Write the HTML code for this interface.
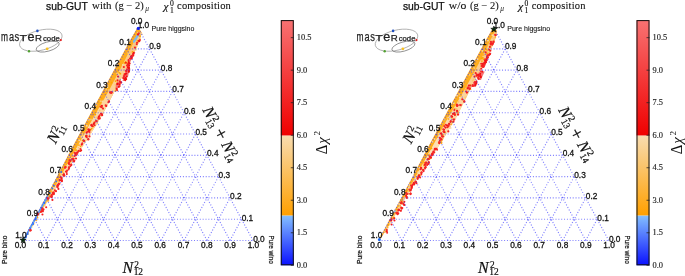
<!DOCTYPE html><html><head><meta charset="utf-8"><style>html,body{margin:0;padding:0;background:#fff;width:685px;height:276px;overflow:hidden}svg{display:block;will-change:transform}</style></head><body><svg width="685" height="276" viewBox="0 0 685 276">
<rect width="685" height="276" fill="#fff"/>
<path d="M136.94,28.50 L135.78,30.50 L134.61,32.50 L133.45,34.50 L132.29,36.50 L131.12,38.50 L129.98,40.50 L128.90,42.50 L127.82,44.50 L126.74,46.50 L125.66,48.50 L124.58,50.50 L123.50,52.50 L122.42,54.50 L121.34,56.50 L120.26,58.50 L119.18,60.50 L118.10,62.50 L117.02,64.50 L115.94,66.50 L114.86,68.50 L113.78,70.50 L112.70,72.50 L111.62,74.50 L110.54,76.50 L109.46,78.50 L108.38,80.50 L107.31,82.50 L106.23,84.50 L105.15,86.50 L104.07,88.50 L102.99,90.50 L101.91,92.50 L100.83,94.50 L99.75,96.50 L98.67,98.50 L97.59,100.50 L96.51,102.50 L95.43,104.50 L94.35,106.50 L93.27,108.50 L92.19,110.50 L91.11,112.50 L90.03,114.50 L88.95,116.50 L87.87,118.50 L86.79,120.50 L85.71,122.50 L84.63,124.50 L83.55,126.50 L82.47,128.50 L81.39,130.50 L80.31,132.50 L79.23,134.50 L78.15,136.50 L77.07,138.50 L75.99,140.50 L74.91,142.50 L73.83,144.50 L72.75,146.50 L71.67,148.50 L70.60,150.50 L69.55,152.50 L68.51,154.50 L67.46,156.50 L66.41,158.50 L65.37,160.50 L64.32,162.50 L63.27,164.50 L62.23,166.50 L61.18,168.50 L60.14,170.50 L59.09,172.50 L58.04,174.50 L57.00,176.50 L55.95,178.50 L54.90,180.50 L53.82,182.50 L52.75,184.50 L51.68,186.50 L50.60,188.50 L49.53,190.50 L48.46,192.50 L47.38,194.50 L46.31,196.50 L45.24,198.50 L44.16,200.50 L43.09,202.50 L42.02,204.50 L40.95,206.50 L39.87,208.50 L38.80,210.50 L37.73,212.50 L36.65,214.50 L35.58,216.50 L34.51,218.50 L33.43,220.50 L32.36,222.50 L31.29,224.50 L30.21,226.50 L29.14,228.50 L28.07,230.50 L26.99,232.50 L25.92,234.50 L24.85,236.50 L23.77,238.50 L23.51,239.00 L24.61,239.00 L24.88,238.50 L26.04,236.50 L27.22,234.50 L28.41,232.50 L29.59,230.50 L30.77,228.50 L31.96,226.50 L33.14,224.50 L34.33,222.50 L35.51,220.50 L36.70,218.50 L37.88,216.50 L39.09,214.50 L40.37,212.50 L41.65,210.50 L42.93,208.50 L44.21,206.50 L45.49,204.50 L46.77,202.50 L48.05,200.50 L49.25,198.50 L50.43,196.50 L51.61,194.50 L52.79,192.50 L53.97,190.50 L55.15,188.50 L56.33,186.50 L57.51,184.50 L58.69,182.50 L59.87,180.50 L61.17,178.50 L62.52,176.50 L63.87,174.50 L65.21,172.50 L66.56,170.50 L67.91,168.50 L69.25,166.50 L70.60,164.50 L71.95,162.50 L73.29,160.50 L74.64,158.50 L75.99,156.50 L77.33,154.50 L78.68,152.50 L80.02,150.50 L81.32,148.50 L82.60,146.50 L83.88,144.50 L85.16,142.50 L86.44,140.50 L87.72,138.50 L89.00,136.50 L90.27,134.50 L91.50,132.50 L92.73,130.50 L93.96,128.50 L95.19,126.50 L96.42,124.50 L97.65,122.50 L98.88,120.50 L100.11,118.50 L101.34,116.50 L102.52,114.50 L103.56,112.50 L104.60,110.50 L105.64,108.50 L106.68,106.50 L107.72,104.50 L108.76,102.50 L109.80,100.50 L110.84,98.50 L111.88,96.50 L112.92,94.50 L113.96,92.50 L115.00,90.50 L116.04,88.50 L117.08,86.50 L118.12,84.50 L119.16,82.50 L120.20,80.50 L121.24,78.50 L122.28,76.50 L123.33,74.50 L124.37,72.50 L125.41,70.50 L126.45,68.50 L127.49,66.50 L128.53,64.50 L129.52,62.50 L130.48,60.50 L131.44,58.50 L132.40,56.50 L133.36,54.50 L134.33,52.50 L135.29,50.50 L136.25,48.50 L137.17,46.50 L137.96,44.50 L138.76,42.50 L139.55,40.50 L140.13,38.50 L140.63,36.50 L141.14,34.50 L141.64,32.50 L140.44,30.50 L138.66,28.50 Z" fill="#ffad1c"/>
<defs><linearGradient id="bgL" gradientUnits="userSpaceOnUse" x1="0" y1="30" x2="0" y2="200"><stop offset="0" stop-color="#fbc57a"/><stop offset="0.4" stop-color="#fcd49c"/><stop offset="0.7" stop-color="#fde0b8"/><stop offset="1" stop-color="#fcd49c"/></linearGradient></defs>
<path d="M138.67,32.00 L137.69,34.00 L136.71,36.00 L135.73,38.00 L134.75,40.00 L133.77,42.00 L132.79,44.00 L131.81,46.00 L130.83,48.00 L129.85,50.00 L128.87,52.00 L127.89,54.00 L126.91,56.00 L125.93,58.00 L124.95,60.00 L123.91,62.00 L122.86,64.00 L121.81,66.00 L120.77,68.00 L119.72,70.00 L118.67,72.00 L117.63,74.00 L116.58,76.00 L115.53,78.00 L114.49,80.00 L113.44,82.00 L112.40,84.00 L111.35,86.00 L110.30,88.00 L109.26,90.00 L108.11,92.00 L106.96,94.00 L105.82,96.00 L104.67,98.00 L103.52,100.00 L102.38,102.00 L101.23,104.00 L100.08,106.00 L98.94,108.00 L97.79,110.00 L96.64,112.00 L95.50,114.00 L94.35,116.00 L93.21,118.00 L92.06,120.00 L90.95,122.00 L89.83,124.00 L88.72,126.00 L87.61,128.00 L86.49,130.00 L85.38,132.00 L84.27,134.00 L83.15,136.00 L82.04,138.00 L80.93,140.00 L79.81,142.00 L78.70,144.00 L77.59,146.00 L76.47,148.00 L75.36,150.00 L74.23,152.00 L73.10,154.00 L71.97,156.00 L70.84,158.00 L69.71,160.00 L68.58,162.00 L67.45,164.00 L66.32,166.00 L65.19,168.00 L64.06,170.00 L62.95,172.00 L61.84,174.00 L60.72,176.00 L59.61,178.00 L58.50,180.00 L57.38,182.00 L56.27,184.00 L55.16,186.00 L54.05,188.00 L52.93,190.00 L51.82,192.00 L50.71,194.00 L49.59,196.00 L48.48,198.00 L47.37,200.00 L46.21,202.00 L45.05,204.00 L43.89,206.00 L42.73,208.00 L41.57,210.00 L40.41,212.00 L39.25,214.00 L38.10,216.00 L36.94,218.00 L35.78,220.00 L34.62,222.00 L33.46,224.00 L32.30,226.00 L31.14,228.00 L29.98,230.00 L28.83,232.00 L27.67,234.00 L26.51,236.00 L26.33,236.00 L27.52,234.00 L28.70,232.00 L29.89,230.00 L31.07,228.00 L32.25,226.00 L33.44,224.00 L34.62,222.00 L35.81,220.00 L36.99,218.00 L38.18,216.00 L39.41,214.00 L40.69,212.00 L41.97,210.00 L43.25,208.00 L44.53,206.00 L45.81,204.00 L47.09,202.00 L48.37,200.00 L49.55,198.00 L50.73,196.00 L51.91,194.00 L53.09,192.00 L54.27,190.00 L55.45,188.00 L56.62,186.00 L57.80,184.00 L58.98,182.00 L60.16,180.00 L61.51,178.00 L62.86,176.00 L64.20,174.00 L65.55,172.00 L66.90,170.00 L68.24,168.00 L69.59,166.00 L70.94,164.00 L72.28,162.00 L73.63,160.00 L74.98,158.00 L76.32,156.00 L77.67,154.00 L79.02,152.00 L80.36,150.00 L81.64,148.00 L82.92,146.00 L84.20,144.00 L85.48,142.00 L86.76,140.00 L88.04,138.00 L89.32,136.00 L90.58,134.00 L91.80,132.00 L93.03,130.00 L94.26,128.00 L95.49,126.00 L96.72,124.00 L97.95,122.00 L99.18,120.00 L100.41,118.00 L101.64,116.00 L102.78,114.00 L103.82,112.00 L104.86,110.00 L105.90,108.00 L106.94,106.00 L107.98,104.00 L109.02,102.00 L110.06,100.00 L111.10,98.00 L112.14,96.00 L113.18,94.00 L114.22,92.00 L115.26,90.00 L116.30,88.00 L117.34,86.00 L118.38,84.00 L119.42,82.00 L120.46,80.00 L121.50,78.00 L122.55,76.00 L123.59,74.00 L124.63,72.00 L125.67,70.00 L126.71,68.00 L127.75,66.00 L128.79,64.00 L129.76,62.00 L130.72,60.00 L131.68,58.00 L132.64,56.00 L133.60,54.00 L134.57,52.00 L135.53,50.00 L136.49,48.00 L137.37,46.00 L138.16,44.00 L138.96,42.00 L139.75,40.00 L140.26,38.00 L140.76,36.00 L141.27,34.00 L141.77,32.00 Z" fill="url(#bgL)"/>
<circle cx="101.74" cy="98.06" r="0.9" fill="#ffa500"/>
<circle cx="133.20" cy="46.78" r="0.9" fill="#fcc870"/>
<circle cx="79.92" cy="150.89" r="0.9" fill="#ffb030"/>
<circle cx="135.52" cy="39.65" r="0.9" fill="#ffa500"/>
<circle cx="115.58" cy="81.10" r="0.9" fill="#ffa500"/>
<circle cx="45.05" cy="200.68" r="0.9" fill="#ffb030"/>
<circle cx="70.82" cy="160.65" r="0.9" fill="#ffa500"/>
<circle cx="75.79" cy="149.73" r="0.9" fill="#ffb030"/>
<circle cx="138.78" cy="41.50" r="0.9" fill="#fcc870"/>
<circle cx="96.06" cy="117.50" r="0.9" fill="#fcc870"/>
<circle cx="80.60" cy="146.29" r="0.9" fill="#ffa500"/>
<circle cx="77.53" cy="150.65" r="0.9" fill="#fcc870"/>
<circle cx="132.52" cy="51.88" r="0.9" fill="#ffa500"/>
<circle cx="71.56" cy="158.28" r="0.9" fill="#f9d9a8"/>
<circle cx="52.28" cy="190.55" r="0.9" fill="#f9d9a8"/>
<circle cx="98.80" cy="105.76" r="0.9" fill="#ffb030"/>
<circle cx="60.10" cy="174.59" r="0.9" fill="#fcc870"/>
<circle cx="86.99" cy="139.14" r="0.9" fill="#f9d9a8"/>
<circle cx="115.63" cy="90.74" r="0.9" fill="#ffa500"/>
<circle cx="80.98" cy="136.43" r="0.9" fill="#fcc870"/>
<circle cx="124.43" cy="63.00" r="0.9" fill="#ffa500"/>
<circle cx="29.79" cy="228.25" r="0.9" fill="#fcc870"/>
<circle cx="102.39" cy="101.38" r="0.9" fill="#f9d9a8"/>
<circle cx="76.02" cy="150.30" r="0.9" fill="#ffa500"/>
<circle cx="32.70" cy="224.71" r="0.9" fill="#ffa500"/>
<circle cx="135.99" cy="44.38" r="0.9" fill="#f9d9a8"/>
<circle cx="108.85" cy="90.06" r="0.9" fill="#fcc870"/>
<circle cx="137.02" cy="36.60" r="0.9" fill="#ffb030"/>
<circle cx="72.54" cy="156.63" r="0.9" fill="#ffb030"/>
<circle cx="51.61" cy="188.72" r="0.9" fill="#ffb030"/>
<circle cx="103.17" cy="113.17" r="0.9" fill="#f9d9a8"/>
<circle cx="131.45" cy="48.44" r="0.9" fill="#fcc870"/>
<circle cx="40.96" cy="212.21" r="0.9" fill="#fcc870"/>
<circle cx="63.71" cy="176.10" r="0.9" fill="#f9d9a8"/>
<circle cx="30.44" cy="227.38" r="0.9" fill="#ffb030"/>
<circle cx="126.44" cy="62.86" r="0.9" fill="#ffa500"/>
<circle cx="88.82" cy="130.93" r="0.9" fill="#fcc870"/>
<circle cx="106.27" cy="89.51" r="0.9" fill="#fcc870"/>
<circle cx="71.16" cy="156.40" r="0.9" fill="#ffb030"/>
<circle cx="62.84" cy="172.86" r="0.9" fill="#ffa500"/>
<circle cx="95.50" cy="125.16" r="0.9" fill="#f9d9a8"/>
<circle cx="96.64" cy="113.21" r="0.9" fill="#f9d9a8"/>
<circle cx="66.21" cy="161.40" r="0.9" fill="#ffa500"/>
<circle cx="28.03" cy="232.87" r="0.9" fill="#ffa500"/>
<circle cx="98.76" cy="101.37" r="0.9" fill="#ffa500"/>
<circle cx="78.37" cy="147.62" r="0.9" fill="#fcc870"/>
<circle cx="68.57" cy="157.20" r="0.9" fill="#ffb030"/>
<circle cx="69.20" cy="157.27" r="0.9" fill="#fcc870"/>
<circle cx="31.77" cy="226.92" r="0.9" fill="#f9d9a8"/>
<circle cx="131.46" cy="57.06" r="0.9" fill="#f9d9a8"/>
<circle cx="86.21" cy="130.00" r="0.9" fill="#ffb030"/>
<circle cx="128.03" cy="52.85" r="0.9" fill="#fcc870"/>
<circle cx="90.75" cy="129.64" r="0.9" fill="#ffa500"/>
<circle cx="124.10" cy="73.86" r="0.9" fill="#fcc870"/>
<circle cx="125.60" cy="61.91" r="0.9" fill="#ffa500"/>
<circle cx="53.61" cy="186.66" r="0.9" fill="#ffa500"/>
<circle cx="60.53" cy="174.02" r="0.9" fill="#fcc870"/>
<circle cx="36.56" cy="217.28" r="0.9" fill="#ffb030"/>
<circle cx="85.04" cy="140.65" r="0.9" fill="#fcc870"/>
<circle cx="70.33" cy="161.83" r="0.9" fill="#ffb030"/>
<circle cx="50.62" cy="196.44" r="0.9" fill="#ffb030"/>
<circle cx="119.30" cy="72.78" r="0.9" fill="#ffa500"/>
<circle cx="28.17" cy="233.88" r="0.9" fill="#f9d9a8"/>
<circle cx="115.27" cy="84.87" r="0.9" fill="#fcc870"/>
<circle cx="97.45" cy="123.23" r="0.9" fill="#fcc870"/>
<circle cx="31.25" cy="226.82" r="0.9" fill="#ffb030"/>
<circle cx="129.42" cy="52.84" r="0.9" fill="#fcc870"/>
<circle cx="120.35" cy="73.69" r="0.9" fill="#ffa500"/>
<circle cx="90.20" cy="129.81" r="0.9" fill="#ffa500"/>
<circle cx="44.15" cy="202.27" r="0.9" fill="#f9d9a8"/>
<circle cx="53.10" cy="191.59" r="0.9" fill="#f9d9a8"/>
<circle cx="39.03" cy="213.36" r="0.9" fill="#fcc870"/>
<circle cx="136.10" cy="49.70" r="0.9" fill="#f9d9a8"/>
<circle cx="93.21" cy="126.48" r="0.9" fill="#ffa500"/>
<circle cx="56.68" cy="179.86" r="0.9" fill="#ffb030"/>
<circle cx="137.74" cy="37.62" r="0.9" fill="#f9d9a8"/>
<circle cx="47.42" cy="196.53" r="0.9" fill="#f9d9a8"/>
<circle cx="65.76" cy="166.08" r="0.9" fill="#ffb030"/>
<circle cx="139.97" cy="36.36" r="0.9" fill="#ffa500"/>
<circle cx="87.43" cy="139.42" r="0.9" fill="#f9d9a8"/>
<circle cx="27.31" cy="233.26" r="0.9" fill="#ffb030"/>
<circle cx="134.37" cy="37.71" r="0.9" fill="#ffb030"/>
<circle cx="53.12" cy="187.79" r="0.9" fill="#f9d9a8"/>
<circle cx="43.95" cy="202.18" r="0.9" fill="#fcc870"/>
<circle cx="38.68" cy="215.13" r="0.9" fill="#f9d9a8"/>
<circle cx="48.36" cy="200.74" r="0.9" fill="#ffb030"/>
<circle cx="82.47" cy="140.49" r="0.9" fill="#ffa500"/>
<circle cx="42.15" cy="210.05" r="0.9" fill="#ffa500"/>
<circle cx="50.84" cy="190.31" r="0.9" fill="#ffb030"/>
<circle cx="91.75" cy="128.59" r="0.9" fill="#ffa500"/>
<circle cx="105.97" cy="98.50" r="0.9" fill="#f9d9a8"/>
<circle cx="49.71" cy="191.99" r="0.9" fill="#ffa500"/>
<circle cx="111.49" cy="82.69" r="0.9" fill="#ffa500"/>
<circle cx="85.80" cy="135.57" r="0.9" fill="#ffa500"/>
<circle cx="94.07" cy="122.42" r="0.9" fill="#ffb030"/>
<circle cx="62.16" cy="173.32" r="0.9" fill="#f9d9a8"/>
<circle cx="82.36" cy="135.58" r="0.9" fill="#fcc870"/>
<circle cx="36.37" cy="220.25" r="0.9" fill="#ffb030"/>
<circle cx="43.62" cy="203.36" r="0.9" fill="#ffa500"/>
<circle cx="96.29" cy="112.04" r="0.9" fill="#ffb030"/>
<circle cx="90.98" cy="119.38" r="0.9" fill="#fcc870"/>
<circle cx="53.63" cy="191.92" r="0.9" fill="#ffb030"/>
<circle cx="33.73" cy="223.66" r="0.9" fill="#fcc870"/>
<circle cx="129.83" cy="61.17" r="0.9" fill="#f9d9a8"/>
<circle cx="122.57" cy="76.80" r="0.9" fill="#f9d9a8"/>
<circle cx="38.63" cy="212.53" r="0.9" fill="#ffb030"/>
<circle cx="122.76" cy="64.94" r="0.9" fill="#f9d9a8"/>
<circle cx="100.61" cy="101.18" r="0.9" fill="#fcc870"/>
<circle cx="129.34" cy="50.81" r="0.9" fill="#fcc870"/>
<circle cx="78.95" cy="145.03" r="0.9" fill="#ffa500"/>
<circle cx="99.66" cy="110.41" r="0.9" fill="#fcc870"/>
<circle cx="79.85" cy="136.50" r="0.9" fill="#ffb030"/>
<circle cx="28.78" cy="230.23" r="0.9" fill="#fcc870"/>
<circle cx="116.45" cy="87.47" r="0.9" fill="#ffb030"/>
<circle cx="107.33" cy="87.17" r="0.9" fill="#f9d9a8"/>
<circle cx="44.68" cy="205.32" r="0.9" fill="#fcc870"/>
<circle cx="97.56" cy="114.81" r="0.9" fill="#f9d9a8"/>
<circle cx="58.98" cy="174.89" r="0.9" fill="#ffa500"/>
<circle cx="48.37" cy="195.12" r="0.9" fill="#ffa500"/>
<circle cx="106.15" cy="86.86" r="0.9" fill="#ffa500"/>
<circle cx="47.67" cy="195.53" r="0.9" fill="#ffb030"/>
<circle cx="137.12" cy="45.59" r="0.9" fill="#f9d9a8"/>
<circle cx="142.13" cy="34.36" r="0.9" fill="#f9d9a8"/>
<circle cx="34.23" cy="221.04" r="0.9" fill="#ffb030"/>
<circle cx="137.63" cy="40.81" r="0.9" fill="#ffa500"/>
<circle cx="29.41" cy="229.72" r="0.9" fill="#ffb030"/>
<circle cx="116.99" cy="73.16" r="0.9" fill="#fcc870"/>
<circle cx="79.23" cy="140.34" r="0.9" fill="#f9d9a8"/>
<circle cx="82.46" cy="134.02" r="0.9" fill="#fcc870"/>
<circle cx="51.73" cy="195.95" r="0.9" fill="#ffa500"/>
<circle cx="139.82" cy="35.13" r="0.9" fill="#ffb030"/>
<circle cx="81.59" cy="136.90" r="0.9" fill="#f9d9a8"/>
<circle cx="132.79" cy="53.68" r="0.9" fill="#f9d9a8"/>
<circle cx="67.29" cy="165.93" r="0.9" fill="#f9d9a8"/>
<circle cx="29.38" cy="229.94" r="0.9" fill="#ffb030"/>
<circle cx="28.08" cy="232.42" r="0.9" fill="#ffb030"/>
<circle cx="95.34" cy="114.56" r="0.9" fill="#ffa500"/>
<circle cx="43.44" cy="202.75" r="0.9" fill="#fcc870"/>
<circle cx="88.80" cy="119.87" r="0.9" fill="#f9d9a8"/>
<circle cx="42.06" cy="209.59" r="0.9" fill="#fcc870"/>
<circle cx="75.82" cy="154.15" r="0.9" fill="#ffa500"/>
<circle cx="86.81" cy="125.73" r="0.9" fill="#f9d9a8"/>
<circle cx="137.87" cy="32.74" r="0.9" fill="#fcc870"/>
<circle cx="29.65" cy="230.42" r="0.9" fill="#ffb030"/>
<circle cx="139.91" cy="39.03" r="0.9" fill="#ffb030"/>
<circle cx="96.31" cy="104.74" r="0.9" fill="#f9d9a8"/>
<circle cx="129.29" cy="49.11" r="0.9" fill="#ffb030"/>
<circle cx="117.44" cy="82.63" r="0.9" fill="#ffa500"/>
<circle cx="107.54" cy="85.89" r="0.9" fill="#f9d9a8"/>
<circle cx="74.59" cy="151.71" r="0.9" fill="#fcc870"/>
<circle cx="104.87" cy="94.07" r="0.9" fill="#ffb030"/>
<circle cx="68.41" cy="166.14" r="0.9" fill="#f9d9a8"/>
<circle cx="55.07" cy="187.92" r="0.9" fill="#f9d9a8"/>
<circle cx="127.37" cy="62.49" r="0.9" fill="#ffb030"/>
<circle cx="138.79" cy="40.93" r="0.9" fill="#f9d9a8"/>
<circle cx="59.14" cy="181.71" r="0.9" fill="#ffb030"/>
<circle cx="37.51" cy="217.62" r="0.9" fill="#ffa500"/>
<circle cx="47.14" cy="200.59" r="0.9" fill="#ffb030"/>
<circle cx="126.64" cy="49.36" r="0.9" fill="#fcc870"/>
<circle cx="30.77" cy="227.74" r="0.9" fill="#f9d9a8"/>
<path d="M139,33.7 L133.9,41.7" stroke="#7ab8f0" stroke-width="2.2" stroke-linecap="round"/>
<path d="M24.48,238.5 L47.63,196" stroke="#5aa8ff" stroke-width="1.6" stroke-linecap="round"/>
<circle cx="61.18" cy="172.00" r="0.9" fill="#2a6cff"/>
<circle cx="56.16" cy="181.30" r="0.9" fill="#2a6cff"/>
<circle cx="53.79" cy="185.70" r="0.9" fill="#2a6cff"/>
<circle cx="52.33" cy="188.40" r="0.9" fill="#2a6cff"/>
<circle cx="49.85" cy="193.00" r="0.9" fill="#2a6cff"/>
<circle cx="44.45" cy="203.00" r="0.9" fill="#2a6cff"/>
<circle cx="41.75" cy="208.00" r="0.9" fill="#2a6cff"/>
<circle cx="38.51" cy="214.00" r="0.9" fill="#2a6cff"/>
<circle cx="35.81" cy="219.00" r="0.9" fill="#2a6cff"/>
<circle cx="33.11" cy="224.00" r="0.9" fill="#2a6cff"/>
<circle cx="30.41" cy="229.00" r="0.9" fill="#2a6cff"/>
<circle cx="27.71" cy="234.00" r="0.9" fill="#2a6cff"/>
<circle cx="26.09" cy="237.00" r="0.9" fill="#2a6cff"/>
<polygon points="133.8,52.0 135.4,52.5 130.3,61.4 129.3,70.0 128.2,76.0 125.3,81.0 122.6,81.0 123.6,76.0 125.8,70.0 128.7,61.4" fill="#f57474"/>
<circle cx="129.04" cy="67.52" r="0.95" fill="#f01010"/>
<circle cx="131.94" cy="57.95" r="0.95" fill="#f01010"/>
<circle cx="128.92" cy="63.09" r="0.95" fill="#f01010"/>
<circle cx="128.73" cy="71.83" r="0.95" fill="#f01010"/>
<circle cx="129.21" cy="65.48" r="0.95" fill="#f01010"/>
<circle cx="125.29" cy="79.42" r="0.95" fill="#f01010"/>
<circle cx="125.56" cy="78.03" r="0.95" fill="#f01010"/>
<circle cx="126.65" cy="76.37" r="0.95" fill="#f01010"/>
<circle cx="133.34" cy="55.48" r="0.95" fill="#f01010"/>
<circle cx="123.90" cy="76.21" r="0.95" fill="#f01010"/>
<circle cx="126.26" cy="79.13" r="0.95" fill="#f01010"/>
<circle cx="128.64" cy="61.97" r="0.95" fill="#f01010"/>
<circle cx="126.41" cy="73.43" r="0.95" fill="#f01010"/>
<circle cx="129.73" cy="63.44" r="0.95" fill="#f01010"/>
<circle cx="125.26" cy="78.27" r="0.95" fill="#f01010"/>
<circle cx="127.90" cy="67.20" r="0.95" fill="#f01010"/>
<circle cx="129.04" cy="70.26" r="0.95" fill="#f01010"/>
<circle cx="127.72" cy="64.93" r="0.95" fill="#f01010"/>
<circle cx="133.77" cy="52.63" r="0.95" fill="#f01010"/>
<circle cx="128.45" cy="67.99" r="0.95" fill="#f01010"/>
<circle cx="125.58" cy="78.68" r="0.95" fill="#f01010"/>
<circle cx="129.31" cy="68.90" r="0.95" fill="#f01010"/>
<circle cx="128.98" cy="71.56" r="0.95" fill="#f01010"/>
<circle cx="131.34" cy="57.74" r="0.95" fill="#f01010"/>
<circle cx="125.43" cy="74.05" r="0.95" fill="#f01010"/>
<circle cx="125.33" cy="80.25" r="0.95" fill="#f01010"/>
<circle cx="124.97" cy="79.14" r="0.95" fill="#f01010"/>
<polygon points="118.2,81.5 121.5,81.5 121.0,84.0 118.3,88.0 115.5,88.5 116.0,84.0" fill="#f57474"/>
<circle cx="119.98" cy="81.72" r="0.95" fill="#f01010"/>
<circle cx="119.49" cy="84.15" r="0.95" fill="#f01010"/>
<circle cx="117.74" cy="83.82" r="0.95" fill="#f01010"/>
<circle cx="117.18" cy="83.96" r="0.95" fill="#f01010"/>
<circle cx="138.00" cy="34.50" r="1.15" fill="#f41818"/>
<circle cx="138.90" cy="33.37" r="1.0" fill="#f52a2a"/>
<circle cx="139.00" cy="41.00" r="1.15" fill="#f41818"/>
<circle cx="139.92" cy="40.12" r="1.0" fill="#f52a2a"/>
<circle cx="133.20" cy="54.00" r="1.15" fill="#f41818"/>
<circle cx="132.72" cy="54.96" r="1.0" fill="#f52a2a"/>
<circle cx="131.70" cy="56.20" r="1.15" fill="#f41818"/>
<circle cx="132.29" cy="56.00" r="1.0" fill="#f52a2a"/>
<circle cx="131.00" cy="58.60" r="1.15" fill="#f41818"/>
<circle cx="129.81" cy="58.52" r="1.0" fill="#f52a2a"/>
<circle cx="128.10" cy="64.10" r="1.15" fill="#f41818"/>
<circle cx="127.66" cy="65.36" r="1.0" fill="#f52a2a"/>
<circle cx="127.80" cy="65.80" r="1.15" fill="#f41818"/>
<circle cx="126.94" cy="65.39" r="1.0" fill="#f52a2a"/>
<circle cx="126.20" cy="70.90" r="1.15" fill="#f41818"/>
<circle cx="126.96" cy="69.49" r="1.0" fill="#f52a2a"/>
<circle cx="124.70" cy="74.50" r="1.15" fill="#f41818"/>
<circle cx="124.34" cy="75.44" r="1.0" fill="#f52a2a"/>
<circle cx="123.30" cy="78.10" r="1.15" fill="#f41818"/>
<circle cx="123.76" cy="76.72" r="1.0" fill="#f52a2a"/>
<circle cx="121.10" cy="82.50" r="1.15" fill="#f41818"/>
<circle cx="119.88" cy="81.19" r="1.0" fill="#f52a2a"/>
<circle cx="118.90" cy="86.80" r="1.15" fill="#f41818"/>
<circle cx="119.72" cy="86.07" r="1.0" fill="#f52a2a"/>
<circle cx="116.70" cy="89.00" r="1.15" fill="#f41818"/>
<circle cx="117.12" cy="90.20" r="1.0" fill="#f52a2a"/>
<circle cx="111.70" cy="92.60" r="1.15" fill="#f41818"/>
<circle cx="111.18" cy="91.92" r="1.0" fill="#f52a2a"/>
<circle cx="110.20" cy="92.60" r="1.15" fill="#f41818"/>
<circle cx="111.10" cy="92.95" r="1.0" fill="#f52a2a"/>
<circle cx="109.00" cy="101.50" r="1.15" fill="#f41818"/>
<circle cx="108.30" cy="102.15" r="1.0" fill="#f52a2a"/>
<circle cx="106.20" cy="105.90" r="1.15" fill="#f41818"/>
<circle cx="105.63" cy="105.23" r="1.0" fill="#f52a2a"/>
<circle cx="101.80" cy="105.90" r="1.15" fill="#f41818"/>
<circle cx="100.51" cy="106.67" r="1.0" fill="#f52a2a"/>
<circle cx="101.10" cy="113.80" r="1.15" fill="#f41818"/>
<circle cx="101.91" cy="114.20" r="1.0" fill="#f52a2a"/>
<circle cx="98.90" cy="116.70" r="1.15" fill="#f41818"/>
<circle cx="99.77" cy="115.27" r="1.0" fill="#f52a2a"/>
<circle cx="96.70" cy="121.10" r="1.15" fill="#f41818"/>
<circle cx="95.94" cy="121.03" r="1.0" fill="#f52a2a"/>
<circle cx="93.80" cy="124.00" r="1.15" fill="#f41818"/>
<circle cx="94.70" cy="125.36" r="1.0" fill="#f52a2a"/>
<circle cx="92.40" cy="126.20" r="1.15" fill="#f41818"/>
<circle cx="91.99" cy="125.45" r="1.0" fill="#f52a2a"/>
<circle cx="89.50" cy="129.80" r="1.15" fill="#f41818"/>
<circle cx="89.19" cy="129.78" r="1.0" fill="#f52a2a"/>
<circle cx="86.60" cy="132.70" r="1.15" fill="#f41818"/>
<circle cx="87.43" cy="131.75" r="1.0" fill="#f52a2a"/>
<circle cx="89.00" cy="131.40" r="1.15" fill="#f41818"/>
<circle cx="89.55" cy="132.12" r="1.0" fill="#f52a2a"/>
<circle cx="86.20" cy="136.50" r="1.15" fill="#f41818"/>
<circle cx="86.79" cy="137.32" r="1.0" fill="#f52a2a"/>
<circle cx="88.30" cy="139.40" r="1.15" fill="#f41818"/>
<circle cx="88.40" cy="138.88" r="1.0" fill="#f52a2a"/>
<circle cx="84.00" cy="140.90" r="1.15" fill="#f41818"/>
<circle cx="83.43" cy="140.49" r="1.0" fill="#f52a2a"/>
<circle cx="81.80" cy="144.50" r="1.15" fill="#f41818"/>
<circle cx="82.30" cy="143.24" r="1.0" fill="#f52a2a"/>
<circle cx="81.10" cy="150.30" r="1.15" fill="#f41818"/>
<circle cx="80.25" cy="151.06" r="1.0" fill="#f52a2a"/>
<circle cx="80.37" cy="148.99" r="1.0" fill="#f52a2a"/>
<circle cx="77.50" cy="152.50" r="1.15" fill="#f41818"/>
<circle cx="76.28" cy="152.66" r="1.0" fill="#f52a2a"/>
<circle cx="76.95" cy="153.94" r="1.0" fill="#f52a2a"/>
<circle cx="75.30" cy="153.90" r="1.15" fill="#f41818"/>
<circle cx="76.03" cy="155.36" r="1.0" fill="#f52a2a"/>
<circle cx="74.61" cy="152.65" r="1.0" fill="#f52a2a"/>
<circle cx="73.10" cy="159.00" r="1.15" fill="#f41818"/>
<circle cx="72.02" cy="159.00" r="1.0" fill="#f52a2a"/>
<circle cx="73.43" cy="158.84" r="1.0" fill="#f52a2a"/>
<circle cx="70.20" cy="160.40" r="1.15" fill="#f41818"/>
<circle cx="69.44" cy="160.15" r="1.0" fill="#f52a2a"/>
<circle cx="70.33" cy="160.92" r="1.0" fill="#f52a2a"/>
<circle cx="68.80" cy="163.30" r="1.15" fill="#f41818"/>
<circle cx="69.22" cy="164.34" r="1.0" fill="#f52a2a"/>
<circle cx="69.03" cy="162.16" r="1.0" fill="#f52a2a"/>
<circle cx="65.10" cy="167.70" r="1.15" fill="#f41818"/>
<circle cx="65.73" cy="167.08" r="1.0" fill="#f52a2a"/>
<circle cx="65.10" cy="167.32" r="1.0" fill="#f52a2a"/>
<circle cx="74.00" cy="161.40" r="1.15" fill="#f41818"/>
<circle cx="74.40" cy="160.50" r="1.0" fill="#f52a2a"/>
<circle cx="73.27" cy="160.64" r="1.0" fill="#f52a2a"/>
<circle cx="71.20" cy="165.00" r="1.15" fill="#f41818"/>
<circle cx="70.25" cy="166.15" r="1.0" fill="#f52a2a"/>
<circle cx="71.23" cy="164.48" r="1.0" fill="#f52a2a"/>
<circle cx="69.00" cy="168.00" r="1.15" fill="#f41818"/>
<circle cx="68.61" cy="169.48" r="1.0" fill="#f52a2a"/>
<circle cx="68.87" cy="167.19" r="1.0" fill="#f52a2a"/>
<circle cx="66.10" cy="171.60" r="1.15" fill="#f41818"/>
<circle cx="66.66" cy="172.06" r="1.0" fill="#f52a2a"/>
<circle cx="67.08" cy="170.41" r="1.0" fill="#f52a2a"/>
<circle cx="63.90" cy="174.50" r="1.15" fill="#f41818"/>
<circle cx="63.69" cy="175.46" r="1.0" fill="#f52a2a"/>
<circle cx="64.53" cy="175.74" r="1.0" fill="#f52a2a"/>
<circle cx="61.70" cy="178.10" r="1.15" fill="#f41818"/>
<circle cx="60.49" cy="177.48" r="1.0" fill="#f52a2a"/>
<circle cx="60.67" cy="177.17" r="1.0" fill="#f52a2a"/>
<circle cx="61.00" cy="180.30" r="1.15" fill="#f41818"/>
<circle cx="61.94" cy="180.55" r="1.0" fill="#f52a2a"/>
<circle cx="61.84" cy="179.92" r="1.0" fill="#f52a2a"/>
<circle cx="58.80" cy="183.90" r="1.15" fill="#f41818"/>
<circle cx="59.49" cy="183.75" r="1.0" fill="#f52a2a"/>
<circle cx="58.10" cy="184.73" r="1.0" fill="#f52a2a"/>
<circle cx="57.40" cy="186.80" r="1.15" fill="#f41818"/>
<circle cx="58.28" cy="185.62" r="1.0" fill="#f52a2a"/>
<circle cx="57.47" cy="187.16" r="1.0" fill="#f52a2a"/>
<circle cx="55.90" cy="191.20" r="1.15" fill="#f41818"/>
<circle cx="55.10" cy="190.81" r="1.0" fill="#f52a2a"/>
<circle cx="54.93" cy="190.31" r="1.0" fill="#f52a2a"/>
<circle cx="53.80" cy="194.00" r="1.15" fill="#f41818"/>
<circle cx="53.09" cy="194.30" r="1.0" fill="#f52a2a"/>
<circle cx="54.00" cy="193.11" r="1.0" fill="#f52a2a"/>
<circle cx="51.60" cy="197.00" r="1.15" fill="#f41818"/>
<circle cx="50.33" cy="196.48" r="1.0" fill="#f52a2a"/>
<circle cx="51.86" cy="196.06" r="1.0" fill="#f52a2a"/>
<circle cx="47.90" cy="198.60" r="1.15" fill="#f41818"/>
<circle cx="47.32" cy="197.71" r="1.0" fill="#f52a2a"/>
<circle cx="48.43" cy="198.74" r="1.0" fill="#f52a2a"/>
<circle cx="43.40" cy="209.50" r="1.15" fill="#f41818"/>
<circle cx="42.25" cy="208.30" r="1.0" fill="#f52a2a"/>
<circle cx="43.01" cy="209.65" r="1.0" fill="#f52a2a"/>
<circle cx="41.60" cy="211.30" r="1.15" fill="#f41818"/>
<circle cx="41.77" cy="210.07" r="1.0" fill="#f52a2a"/>
<circle cx="40.68" cy="211.89" r="1.0" fill="#f52a2a"/>
<circle cx="37.90" cy="214.00" r="1.15" fill="#f41818"/>
<circle cx="37.54" cy="213.35" r="1.0" fill="#f52a2a"/>
<circle cx="37.31" cy="215.36" r="1.0" fill="#f52a2a"/>
<circle cx="30.70" cy="230.30" r="1.15" fill="#f41818"/>
<circle cx="30.12" cy="230.50" r="1.0" fill="#f52a2a"/>
<circle cx="30.22" cy="230.05" r="1.0" fill="#f52a2a"/>
<circle cx="52.42" cy="199.89" r="1.05" fill="#f42020"/>
<circle cx="101.67" cy="107.30" r="1.05" fill="#f42020"/>
<circle cx="63.36" cy="174.69" r="1.05" fill="#f42020"/>
<circle cx="139.37" cy="41.09" r="1.05" fill="#f42020"/>
<circle cx="99.76" cy="118.39" r="1.05" fill="#f42020"/>
<circle cx="102.17" cy="115.15" r="1.05" fill="#f42020"/>
<circle cx="91.22" cy="125.27" r="1.05" fill="#f42020"/>
<circle cx="137.04" cy="42.74" r="1.05" fill="#f42020"/>
<circle cx="76.03" cy="158.52" r="1.05" fill="#f42020"/>
<circle cx="130.98" cy="56.47" r="1.05" fill="#f42020"/>
<circle cx="103.02" cy="108.61" r="1.05" fill="#f42020"/>
<circle cx="123.87" cy="66.99" r="1.05" fill="#f42020"/>
<circle cx="89.54" cy="136.41" r="1.05" fill="#f42020"/>
<circle cx="128.52" cy="60.13" r="1.05" fill="#f42020"/>
<circle cx="58.42" cy="188.89" r="1.05" fill="#f42020"/>
<circle cx="118.03" cy="76.51" r="1.05" fill="#f42020"/>
<circle cx="42.47" cy="214.47" r="1.05" fill="#f42020"/>
<circle cx="88.23" cy="129.31" r="1.05" fill="#f42020"/>
<circle cx="42.90" cy="211.34" r="1.05" fill="#f42020"/>
<circle cx="46.18" cy="207.28" r="1.05" fill="#f42020"/>
<circle cx="53.16" cy="192.54" r="1.05" fill="#f42020"/>
<circle cx="57.39" cy="185.38" r="1.05" fill="#f42020"/>
<circle cx="102.09" cy="114.83" r="1.05" fill="#f42020"/>
<circle cx="52.77" cy="193.40" r="1.05" fill="#f42020"/>
<circle cx="117.56" cy="80.36" r="1.05" fill="#f42020"/>
<circle cx="86.61" cy="135.81" r="1.05" fill="#f42020"/>
<circle cx="125.86" cy="62.77" r="1.05" fill="#f42020"/>
<circle cx="66.81" cy="174.10" r="1.05" fill="#f42020"/>
<circle cx="134.94" cy="47.60" r="1.05" fill="#f42020"/>
<circle cx="59.58" cy="180.13" r="1.05" fill="#f42020"/>
<circle cx="51.58" cy="195.07" r="1.05" fill="#f42020"/>
<circle cx="78.59" cy="150.91" r="1.05" fill="#f42020"/>
<circle cx="74.49" cy="156.00" r="1.05" fill="#f42020"/>
<circle cx="98.49" cy="117.71" r="1.05" fill="#f42020"/>
<circle cx="98.40" cy="118.76" r="1.05" fill="#f42020"/>
<circle cx="94.58" cy="122.66" r="1.05" fill="#f42020"/>
<circle cx="136.68" cy="44.32" r="1.05" fill="#f42020"/>
<circle cx="88.69" cy="130.56" r="1.05" fill="#f42020"/>
<circle cx="61.92" cy="181.26" r="1.05" fill="#f42020"/>
<circle cx="91.61" cy="124.78" r="1.05" fill="#f42020"/>
<line x1="23.00" y1="240.50" x2="253.00" y2="240.50" stroke="#3030ff" stroke-width="1.15" stroke-dasharray="1 1.85" stroke-opacity="0.62"/>
<line x1="23.00" y1="240.50" x2="138.00" y2="27.50" stroke="#3030ff" stroke-width="1.15" stroke-dasharray="1 1.85" stroke-opacity="0.62"/>
<line x1="253.00" y1="240.50" x2="138.00" y2="27.50" stroke="#3030ff" stroke-width="1.15" stroke-dasharray="1 1.85" stroke-opacity="0.62"/>
<line x1="34.50" y1="219.20" x2="241.50" y2="219.20" stroke="#3030ff" stroke-width="1.15" stroke-dasharray="1 1.85" stroke-opacity="0.62"/>
<line x1="46.00" y1="240.50" x2="149.50" y2="48.80" stroke="#3030ff" stroke-width="1.15" stroke-dasharray="1 1.85" stroke-opacity="0.62"/>
<line x1="230.00" y1="240.50" x2="126.50" y2="48.80" stroke="#3030ff" stroke-width="1.15" stroke-dasharray="1 1.85" stroke-opacity="0.62"/>
<line x1="46.00" y1="197.90" x2="230.00" y2="197.90" stroke="#3030ff" stroke-width="1.15" stroke-dasharray="1 1.85" stroke-opacity="0.62"/>
<line x1="69.00" y1="240.50" x2="161.00" y2="70.10" stroke="#3030ff" stroke-width="1.15" stroke-dasharray="1 1.85" stroke-opacity="0.62"/>
<line x1="207.00" y1="240.50" x2="115.00" y2="70.10" stroke="#3030ff" stroke-width="1.15" stroke-dasharray="1 1.85" stroke-opacity="0.62"/>
<line x1="57.50" y1="176.60" x2="218.50" y2="176.60" stroke="#3030ff" stroke-width="1.15" stroke-dasharray="1 1.85" stroke-opacity="0.62"/>
<line x1="92.00" y1="240.50" x2="172.50" y2="91.40" stroke="#3030ff" stroke-width="1.15" stroke-dasharray="1 1.85" stroke-opacity="0.62"/>
<line x1="184.00" y1="240.50" x2="103.50" y2="91.40" stroke="#3030ff" stroke-width="1.15" stroke-dasharray="1 1.85" stroke-opacity="0.62"/>
<line x1="69.00" y1="155.30" x2="207.00" y2="155.30" stroke="#3030ff" stroke-width="1.15" stroke-dasharray="1 1.85" stroke-opacity="0.62"/>
<line x1="115.00" y1="240.50" x2="184.00" y2="112.70" stroke="#3030ff" stroke-width="1.15" stroke-dasharray="1 1.85" stroke-opacity="0.62"/>
<line x1="161.00" y1="240.50" x2="92.00" y2="112.70" stroke="#3030ff" stroke-width="1.15" stroke-dasharray="1 1.85" stroke-opacity="0.62"/>
<line x1="80.50" y1="134.00" x2="195.50" y2="134.00" stroke="#3030ff" stroke-width="1.15" stroke-dasharray="1 1.85" stroke-opacity="0.62"/>
<line x1="138.00" y1="240.50" x2="195.50" y2="134.00" stroke="#3030ff" stroke-width="1.15" stroke-dasharray="1 1.85" stroke-opacity="0.62"/>
<line x1="138.00" y1="240.50" x2="80.50" y2="134.00" stroke="#3030ff" stroke-width="1.15" stroke-dasharray="1 1.85" stroke-opacity="0.62"/>
<line x1="92.00" y1="112.70" x2="184.00" y2="112.70" stroke="#3030ff" stroke-width="1.15" stroke-dasharray="1 1.85" stroke-opacity="0.62"/>
<line x1="161.00" y1="240.50" x2="207.00" y2="155.30" stroke="#3030ff" stroke-width="1.15" stroke-dasharray="1 1.85" stroke-opacity="0.62"/>
<line x1="115.00" y1="240.50" x2="69.00" y2="155.30" stroke="#3030ff" stroke-width="1.15" stroke-dasharray="1 1.85" stroke-opacity="0.62"/>
<line x1="103.50" y1="91.40" x2="172.50" y2="91.40" stroke="#3030ff" stroke-width="1.15" stroke-dasharray="1 1.85" stroke-opacity="0.62"/>
<line x1="184.00" y1="240.50" x2="218.50" y2="176.60" stroke="#3030ff" stroke-width="1.15" stroke-dasharray="1 1.85" stroke-opacity="0.62"/>
<line x1="92.00" y1="240.50" x2="57.50" y2="176.60" stroke="#3030ff" stroke-width="1.15" stroke-dasharray="1 1.85" stroke-opacity="0.62"/>
<line x1="115.00" y1="70.10" x2="161.00" y2="70.10" stroke="#3030ff" stroke-width="1.15" stroke-dasharray="1 1.85" stroke-opacity="0.62"/>
<line x1="207.00" y1="240.50" x2="230.00" y2="197.90" stroke="#3030ff" stroke-width="1.15" stroke-dasharray="1 1.85" stroke-opacity="0.62"/>
<line x1="69.00" y1="240.50" x2="46.00" y2="197.90" stroke="#3030ff" stroke-width="1.15" stroke-dasharray="1 1.85" stroke-opacity="0.62"/>
<line x1="126.50" y1="48.80" x2="149.50" y2="48.80" stroke="#3030ff" stroke-width="1.15" stroke-dasharray="1 1.85" stroke-opacity="0.62"/>
<line x1="230.00" y1="240.50" x2="241.50" y2="219.20" stroke="#3030ff" stroke-width="1.15" stroke-dasharray="1 1.85" stroke-opacity="0.62"/>
<line x1="46.00" y1="240.50" x2="34.50" y2="219.20" stroke="#3030ff" stroke-width="1.15" stroke-dasharray="1 1.85" stroke-opacity="0.62"/>
<text x="136.70" y="23.69" text-anchor="middle" style="font-family:'Liberation Sans',sans-serif;font-size:8.3px;fill:#111;stroke:#111;stroke-width:0.28">0.0</text>
<text x="137.70" y="27.99" style="font-family:'Liberation Sans',sans-serif;font-size:8.3px;fill:#111;stroke:#111;stroke-width:0.28">1.0</text>
<text x="20.40" y="248.49" text-anchor="middle" style="font-family:'Liberation Sans',sans-serif;font-size:8.3px;fill:#111;stroke:#111;stroke-width:0.28">0.0</text>
<text x="125.12" y="45.09" text-anchor="middle" style="font-family:'Liberation Sans',sans-serif;font-size:8.3px;fill:#111;stroke:#111;stroke-width:0.28">0.1</text>
<text x="149.25" y="49.39" style="font-family:'Liberation Sans',sans-serif;font-size:8.3px;fill:#111;stroke:#111;stroke-width:0.28">0.9</text>
<text x="43.70" y="248.49" text-anchor="middle" style="font-family:'Liberation Sans',sans-serif;font-size:8.3px;fill:#111;stroke:#111;stroke-width:0.28">0.1</text>
<text x="113.54" y="66.49" text-anchor="middle" style="font-family:'Liberation Sans',sans-serif;font-size:8.3px;fill:#111;stroke:#111;stroke-width:0.28">0.2</text>
<text x="160.80" y="70.79" style="font-family:'Liberation Sans',sans-serif;font-size:8.3px;fill:#111;stroke:#111;stroke-width:0.28">0.8</text>
<text x="67.00" y="248.49" text-anchor="middle" style="font-family:'Liberation Sans',sans-serif;font-size:8.3px;fill:#111;stroke:#111;stroke-width:0.28">0.2</text>
<text x="101.96" y="87.89" text-anchor="middle" style="font-family:'Liberation Sans',sans-serif;font-size:8.3px;fill:#111;stroke:#111;stroke-width:0.28">0.3</text>
<text x="172.35" y="92.19" style="font-family:'Liberation Sans',sans-serif;font-size:8.3px;fill:#111;stroke:#111;stroke-width:0.28">0.7</text>
<text x="90.30" y="248.49" text-anchor="middle" style="font-family:'Liberation Sans',sans-serif;font-size:8.3px;fill:#111;stroke:#111;stroke-width:0.28">0.3</text>
<text x="90.38" y="109.29" text-anchor="middle" style="font-family:'Liberation Sans',sans-serif;font-size:8.3px;fill:#111;stroke:#111;stroke-width:0.28">0.4</text>
<text x="183.90" y="113.59" style="font-family:'Liberation Sans',sans-serif;font-size:8.3px;fill:#111;stroke:#111;stroke-width:0.28">0.6</text>
<text x="113.60" y="248.49" text-anchor="middle" style="font-family:'Liberation Sans',sans-serif;font-size:8.3px;fill:#111;stroke:#111;stroke-width:0.28">0.4</text>
<text x="78.80" y="130.69" text-anchor="middle" style="font-family:'Liberation Sans',sans-serif;font-size:8.3px;fill:#111;stroke:#111;stroke-width:0.28">0.5</text>
<text x="195.45" y="134.99" style="font-family:'Liberation Sans',sans-serif;font-size:8.3px;fill:#111;stroke:#111;stroke-width:0.28">0.5</text>
<text x="136.90" y="248.49" text-anchor="middle" style="font-family:'Liberation Sans',sans-serif;font-size:8.3px;fill:#111;stroke:#111;stroke-width:0.28">0.5</text>
<text x="67.22" y="152.09" text-anchor="middle" style="font-family:'Liberation Sans',sans-serif;font-size:8.3px;fill:#111;stroke:#111;stroke-width:0.28">0.6</text>
<text x="207.00" y="156.39" style="font-family:'Liberation Sans',sans-serif;font-size:8.3px;fill:#111;stroke:#111;stroke-width:0.28">0.4</text>
<text x="160.20" y="248.49" text-anchor="middle" style="font-family:'Liberation Sans',sans-serif;font-size:8.3px;fill:#111;stroke:#111;stroke-width:0.28">0.6</text>
<text x="55.64" y="173.49" text-anchor="middle" style="font-family:'Liberation Sans',sans-serif;font-size:8.3px;fill:#111;stroke:#111;stroke-width:0.28">0.7</text>
<text x="218.55" y="177.79" style="font-family:'Liberation Sans',sans-serif;font-size:8.3px;fill:#111;stroke:#111;stroke-width:0.28">0.3</text>
<text x="183.50" y="248.49" text-anchor="middle" style="font-family:'Liberation Sans',sans-serif;font-size:8.3px;fill:#111;stroke:#111;stroke-width:0.28">0.7</text>
<text x="44.06" y="194.89" text-anchor="middle" style="font-family:'Liberation Sans',sans-serif;font-size:8.3px;fill:#111;stroke:#111;stroke-width:0.28">0.8</text>
<text x="230.10" y="199.19" style="font-family:'Liberation Sans',sans-serif;font-size:8.3px;fill:#111;stroke:#111;stroke-width:0.28">0.2</text>
<text x="206.80" y="248.49" text-anchor="middle" style="font-family:'Liberation Sans',sans-serif;font-size:8.3px;fill:#111;stroke:#111;stroke-width:0.28">0.8</text>
<text x="32.48" y="216.29" text-anchor="middle" style="font-family:'Liberation Sans',sans-serif;font-size:8.3px;fill:#111;stroke:#111;stroke-width:0.28">0.9</text>
<text x="241.65" y="220.59" style="font-family:'Liberation Sans',sans-serif;font-size:8.3px;fill:#111;stroke:#111;stroke-width:0.28">0.1</text>
<text x="230.10" y="248.49" text-anchor="middle" style="font-family:'Liberation Sans',sans-serif;font-size:8.3px;fill:#111;stroke:#111;stroke-width:0.28">0.9</text>
<text x="20.90" y="237.69" text-anchor="middle" style="font-family:'Liberation Sans',sans-serif;font-size:8.3px;fill:#111;stroke:#111;stroke-width:0.28">1.0</text>
<text x="253.20" y="241.99" style="font-family:'Liberation Sans',sans-serif;font-size:8.3px;fill:#111;stroke:#111;stroke-width:0.28">0.0</text>
<text x="253.40" y="248.49" text-anchor="middle" style="font-family:'Liberation Sans',sans-serif;font-size:8.3px;fill:#111;stroke:#111;stroke-width:0.28">1.0</text>
<text x="151.60" y="30.6" textLength="42.8" lengthAdjust="spacingAndGlyphs" style="font-family:'Liberation Sans',sans-serif;font-size:7.6px;fill:#111;stroke:#111;stroke-width:0.1">Pure higgsino</text>
<text transform="translate(6.60,263.9) rotate(-90)" textLength="28.2" lengthAdjust="spacingAndGlyphs" style="font-family:'Liberation Sans',sans-serif;font-size:7.9px;fill:#111;stroke:#111;stroke-width:0.22">Pure bino</text>
<text transform="translate(268.90,235.5) rotate(90)" textLength="28.2" lengthAdjust="spacingAndGlyphs" style="font-family:'Liberation Sans',sans-serif;font-size:7.9px;fill:#111;stroke:#111;stroke-width:0.22">Pure wino</text>
<text x="122.40" y="272.5" style="font-family:'Liberation Serif',serif;font-style:italic;fill:#111;stroke:#111;stroke-width:0.2;font-size:16px">N<tspan dx="1.2" dy="-5" font-size="9.4" font-style="normal">2</tspan><tspan dx="-5.3" dy="7.8" font-size="9.4" font-style="normal">12</tspan><tspan dy="-2.8"> </tspan></text>
<g transform="translate(55.80,133.2) rotate(-61.6)"><text x="0" y="5" text-anchor="middle" style="font-family:'Liberation Serif',serif;font-style:italic;fill:#111;stroke:#111;stroke-width:0.2;font-size:16px">N<tspan dx="1.2" dy="-5" font-size="9.4" font-style="normal">2</tspan><tspan dx="-5.3" dy="7.8" font-size="9.4" font-style="normal">11</tspan><tspan dy="-2.8"> </tspan></text></g>
<g transform="translate(220.90,133.9) rotate(61.6)"><text x="0" y="5" text-anchor="middle" style="font-family:'Liberation Serif',serif;font-style:italic;fill:#111;stroke:#111;stroke-width:0.2;font-size:16px">N<tspan dx="1.2" dy="-5" font-size="9.4" font-style="normal">2</tspan><tspan dx="-5.3" dy="7.8" font-size="9.4" font-style="normal">13</tspan><tspan dy="-2.8"> </tspan><tspan font-style="normal" font-size="19" dy="1">+</tspan><tspan dy="-1"> </tspan>N<tspan dx="1.2" dy="-5" font-size="9.4" font-style="normal">2</tspan><tspan dx="-5.3" dy="7.8" font-size="9.4" font-style="normal">14</tspan><tspan dy="-2.8"> </tspan></text></g>
<circle cx="138.3" cy="28.4" r="1.6" fill="#1020f0"/>
<polygon points="23.10,236.90 23.91,239.08 26.24,239.18 24.42,240.63 25.04,242.87 23.10,241.59 21.16,242.87 21.78,240.63 19.96,239.18 22.29,239.08" fill="#052a0c" stroke="#000" stroke-width="0.5"/>
<text x="46.00" y="9.5" style="font-family:'Liberation Sans',sans-serif;font-size:10.3px;fill:#111;stroke:#111;stroke-width:0.25">sub-GUT</text>
<text x="92.10" y="9.3" textLength="19.4" lengthAdjust="spacingAndGlyphs" style="font-family:'Liberation Serif',serif;font-size:10.5px;fill:#111;stroke:#111;stroke-width:0.1">with</text>
<text x="115.10" y="9.3" textLength="28.6" lengthAdjust="spacing" style="font-family:'Liberation Serif',serif;font-size:10.5px;fill:#111;stroke:#111;stroke-width:0.1">(g − 2)</text>
<text x="145.20" y="11.2" style="font-family:'Liberation Serif',serif;font-style:italic;font-size:7.4px;fill:#111">μ</text>
<text x="163.60" y="9.6" style="font-family:'Liberation Serif',serif;font-style:italic;font-size:11.3px;fill:#111;stroke:#111;stroke-width:0.15">χ</text>
<text x="170.00" y="5.9" style="font-family:'Liberation Serif',serif;font-size:7.6px;fill:#111;stroke:#111;stroke-width:0.15">0</text>
<text x="170.00" y="12.7" style="font-family:'Liberation Serif',serif;font-size:7.6px;fill:#111;stroke:#111;stroke-width:0.15">1</text>
<text x="177.10" y="9.3" textLength="53.7" lengthAdjust="spacing" style="font-family:'Liberation Serif',serif;font-size:10.5px;fill:#111;stroke:#111;stroke-width:0.1">composition</text>
<g transform="translate(0.00,0)">
<ellipse cx="40.8" cy="40.2" rx="21.8" ry="10" transform="rotate(-14.1 40.8 40.2)" fill="none" stroke="#888" stroke-width="0.6"/>
<ellipse cx="47.7" cy="46.6" rx="11.9" ry="4.6" transform="rotate(-15.8 47.7 46.6)" fill="none" stroke="#666" stroke-width="0.65"/>
<text x="0.90" y="40.5" textLength="7.00" lengthAdjust="spacingAndGlyphs" style="font-family:'Liberation Sans',sans-serif;fill:#222;stroke:#222;stroke-width:0.25;font-size:12.5px">m</text>
<text x="8.90" y="40.5" textLength="5.10" lengthAdjust="spacingAndGlyphs" style="font-family:'Liberation Sans',sans-serif;fill:#222;stroke:#222;stroke-width:0.25;font-size:12.5px">a</text>
<text x="14.50" y="40.5" textLength="4.70" lengthAdjust="spacingAndGlyphs" style="font-family:'Liberation Sans',sans-serif;fill:#222;stroke:#222;stroke-width:0.25;font-size:12.5px">s</text>
<text x="19.60" y="40.5" textLength="7.50" lengthAdjust="spacingAndGlyphs" style="font-family:'Liberation Sans',sans-serif;fill:#222;stroke:#222;stroke-width:0.25;font-size:8.9px">T</text>
<text x="27.60" y="40.5" textLength="7.00" lengthAdjust="spacingAndGlyphs" style="font-family:'Liberation Sans',sans-serif;fill:#222;stroke:#222;stroke-width:0.25;font-size:12.5px">e</text>
<text x="35.00" y="40.5" textLength="7.00" lengthAdjust="spacingAndGlyphs" style="font-family:'Liberation Sans',sans-serif;fill:#222;stroke:#222;stroke-width:0.25;font-size:8.9px">R</text>
<text x="43" y="40.5" textLength="16.8" lengthAdjust="spacingAndGlyphs" style="font-family:'Liberation Sans',sans-serif;fill:#2a2a2a;stroke:#2a2a2a;stroke-width:0.25;font-size:6.6px">code</text>
<circle cx="37.4" cy="30.9" r="1.3" fill="#2050c0"/>
<circle cx="60.8" cy="40.1" r="1.1" fill="#e02020"/>
<circle cx="47.2" cy="48.8" r="1.4" fill="#f8c020"/>
<circle cx="29" cy="51.2" r="1.2" fill="#50a030"/>
</g>
<defs><linearGradient id="g0b" x1="0" y1="1" x2="0" y2="0"><stop offset="0" stop-color="#0a10ff"/><stop offset="1" stop-color="#84c0ff"/></linearGradient><linearGradient id="g0o" x1="0" y1="1" x2="0" y2="0"><stop offset="0" stop-color="#ffa000"/><stop offset="1" stop-color="#f8dcb0"/></linearGradient><linearGradient id="g0r" x1="0" y1="1" x2="0" y2="0"><stop offset="0" stop-color="#f00000"/><stop offset="1" stop-color="#f87272"/></linearGradient></defs>
<rect x="280.80" y="215.44" width="13" height="49.86" fill="url(#g0b)"/>
<rect x="280.80" y="135.44" width="13" height="80.00" fill="url(#g0o)"/>
<rect x="280.80" y="20.10" width="13" height="115.34" fill="url(#g0r)"/>
<rect x="281.30" y="20.60" width="12" height="244.20" fill="none" stroke="#111" stroke-width="1"/>
<line x1="290.80" y1="265.30" x2="293.80" y2="265.30" stroke="#222" stroke-width="0.8"/>
<text x="296.80" y="267.80" style="font-family:'Liberation Serif',serif;font-size:8.4px;fill:#222;stroke:#222;stroke-width:0.15">0.0</text>
<line x1="290.80" y1="232.78" x2="293.80" y2="232.78" stroke="#222" stroke-width="0.8"/>
<text x="296.80" y="235.28" style="font-family:'Liberation Serif',serif;font-size:8.4px;fill:#222;stroke:#222;stroke-width:0.15">1.5</text>
<line x1="290.80" y1="200.26" x2="293.80" y2="200.26" stroke="#222" stroke-width="0.8"/>
<text x="296.80" y="202.76" style="font-family:'Liberation Serif',serif;font-size:8.4px;fill:#222;stroke:#222;stroke-width:0.15">3.0</text>
<line x1="290.80" y1="167.74" x2="293.80" y2="167.74" stroke="#222" stroke-width="0.8"/>
<text x="296.80" y="170.24" style="font-family:'Liberation Serif',serif;font-size:8.4px;fill:#222;stroke:#222;stroke-width:0.15">4.5</text>
<line x1="290.80" y1="135.22" x2="293.80" y2="135.22" stroke="#222" stroke-width="0.8"/>
<text x="296.80" y="137.72" style="font-family:'Liberation Serif',serif;font-size:8.4px;fill:#222;stroke:#222;stroke-width:0.15">6.0</text>
<line x1="290.80" y1="102.70" x2="293.80" y2="102.70" stroke="#222" stroke-width="0.8"/>
<text x="296.80" y="105.20" style="font-family:'Liberation Serif',serif;font-size:8.4px;fill:#222;stroke:#222;stroke-width:0.15">7.5</text>
<line x1="290.80" y1="70.18" x2="293.80" y2="70.18" stroke="#222" stroke-width="0.8"/>
<text x="296.80" y="72.68" style="font-family:'Liberation Serif',serif;font-size:8.4px;fill:#222;stroke:#222;stroke-width:0.15">9.0</text>
<line x1="290.80" y1="37.66" x2="293.80" y2="37.66" stroke="#222" stroke-width="0.8"/>
<text x="296.80" y="40.16" style="font-family:'Liberation Serif',serif;font-size:8.4px;fill:#222;stroke:#222;stroke-width:0.15">10.5</text>
<g transform="translate(326.50,154.3) rotate(-90)" style="font-family:'Liberation Serif',serif;fill:#111"><text x="0" y="0" textLength="9.6" lengthAdjust="spacingAndGlyphs" style="font-size:16px">Δ</text><text x="10.6" y="0" style="font-size:15px;font-style:italic">χ</text><text x="18.9" y="-6.5" style="font-size:9px">2</text></g>
<path d="M492.64,28.50 L491.48,30.50 L490.31,32.50 L489.15,34.50 L487.99,36.50 L486.82,38.50 L485.68,40.50 L484.60,42.50 L483.52,44.50 L482.44,46.50 L481.36,48.50 L480.28,50.50 L479.20,52.50 L478.12,54.50 L477.04,56.50 L475.96,58.50 L474.88,60.50 L473.80,62.50 L472.72,64.50 L471.64,66.50 L470.56,68.50 L469.48,70.50 L468.40,72.50 L467.32,74.50 L466.24,76.50 L465.16,78.50 L464.08,80.50 L463.01,82.50 L461.93,84.50 L460.85,86.50 L459.77,88.50 L458.69,90.50 L457.61,92.50 L456.53,94.50 L455.45,96.50 L454.37,98.50 L453.29,100.50 L452.21,102.50 L451.13,104.50 L450.05,106.50 L448.97,108.50 L447.89,110.50 L446.81,112.50 L445.73,114.50 L444.65,116.50 L443.57,118.50 L442.49,120.50 L441.41,122.50 L440.33,124.50 L439.25,126.50 L438.17,128.50 L437.09,130.50 L436.01,132.50 L434.93,134.50 L433.85,136.50 L432.77,138.50 L431.69,140.50 L430.61,142.50 L429.53,144.50 L428.45,146.50 L427.37,148.50 L426.30,150.50 L425.25,152.50 L424.21,154.50 L423.16,156.50 L422.11,158.50 L421.07,160.50 L420.02,162.50 L418.97,164.50 L417.93,166.50 L416.88,168.50 L415.84,170.50 L414.79,172.50 L413.74,174.50 L412.70,176.50 L411.65,178.50 L410.60,180.50 L409.52,182.50 L408.45,184.50 L407.38,186.50 L406.30,188.50 L405.23,190.50 L404.16,192.50 L403.08,194.50 L402.01,196.50 L400.94,198.50 L399.86,200.50 L398.79,202.50 L397.72,204.50 L396.65,206.50 L395.57,208.50 L394.50,210.50 L393.43,212.50 L392.35,214.50 L391.28,216.50 L390.21,218.50 L389.13,220.50 L388.06,222.50 L386.99,224.50 L385.91,226.50 L384.84,228.50 L383.77,230.50 L382.69,232.50 L381.62,234.50 L380.55,236.50 L379.47,238.50 L379.21,239.00 L380.51,239.00 L380.78,238.50 L381.98,236.50 L383.23,234.50 L384.48,232.50 L385.72,230.50 L386.97,228.50 L388.22,226.50 L389.46,224.50 L390.71,222.50 L391.96,220.50 L393.15,218.50 L394.33,216.50 L395.51,214.50 L396.69,212.50 L397.87,210.50 L399.05,208.50 L400.23,206.50 L401.41,204.50 L402.59,202.50 L403.77,200.50 L404.95,198.50 L406.13,196.50 L407.31,194.50 L408.49,192.50 L409.67,190.50 L410.85,188.50 L412.03,186.50 L413.21,184.50 L414.39,182.50 L415.57,180.50 L416.87,178.50 L418.22,176.50 L419.57,174.50 L420.91,172.50 L422.26,170.50 L423.61,168.50 L424.95,166.50 L426.30,164.50 L427.65,162.50 L428.99,160.50 L430.34,158.50 L431.69,156.50 L433.03,154.50 L434.38,152.50 L435.72,150.50 L437.02,148.50 L438.30,146.50 L439.58,144.50 L440.86,142.50 L442.14,140.50 L443.42,138.50 L444.70,136.50 L445.96,134.50 L447.13,132.50 L448.31,130.50 L449.49,128.50 L450.67,126.50 L451.85,124.50 L453.03,122.50 L454.21,120.50 L455.39,118.50 L456.57,116.50 L457.71,114.50 L458.71,112.50 L459.71,110.50 L460.71,108.50 L461.71,106.50 L462.71,104.50 L463.71,102.50 L464.71,100.50 L465.71,98.50 L466.71,96.50 L467.71,94.50 L468.71,92.50 L469.71,90.50 L470.74,88.50 L471.78,86.50 L472.82,84.50 L473.86,82.50 L474.90,80.50 L475.94,78.50 L476.98,76.50 L478.03,74.50 L479.07,72.50 L480.11,70.50 L481.15,68.50 L482.19,66.50 L483.23,64.50 L484.24,62.50 L485.24,60.50 L486.24,58.50 L487.23,56.50 L488.23,54.50 L489.23,52.50 L490.23,50.50 L491.22,48.50 L492.18,46.50 L493.04,44.50 L493.89,42.50 L494.74,40.50 L495.34,38.50 L495.87,36.50 L496.39,34.50 L496.92,32.50 L496.72,30.50 L494.36,28.50 Z" fill="#ffad1c"/>
<defs><linearGradient id="bgR" gradientUnits="userSpaceOnUse" x1="0" y1="30" x2="0" y2="200"><stop offset="0" stop-color="#fbc57a"/><stop offset="0.4" stop-color="#fcd49c"/><stop offset="0.7" stop-color="#fde0b8"/><stop offset="1" stop-color="#fcd49c"/></linearGradient></defs>
<path d="M494.37,32.00 L493.39,34.00 L492.41,36.00 L491.43,38.00 L490.45,40.00 L489.47,42.00 L488.49,44.00 L487.51,46.00 L486.53,48.00 L485.55,50.00 L484.57,52.00 L483.59,54.00 L482.61,56.00 L481.63,58.00 L480.65,60.00 L479.57,62.00 L478.49,64.00 L477.41,66.00 L476.33,68.00 L475.25,70.00 L474.17,72.00 L473.09,74.00 L472.01,76.00 L470.93,78.00 L469.85,80.00 L468.78,82.00 L467.70,84.00 L466.62,86.00 L465.54,88.00 L464.46,90.00 L463.28,92.00 L462.10,94.00 L460.92,96.00 L459.74,98.00 L458.56,100.00 L457.38,102.00 L456.20,104.00 L455.02,106.00 L453.84,108.00 L452.66,110.00 L451.48,112.00 L450.30,114.00 L449.12,116.00 L447.94,118.00 L446.76,120.00 L445.68,122.00 L444.60,124.00 L443.52,126.00 L442.44,128.00 L441.36,130.00 L440.28,132.00 L439.20,134.00 L438.12,136.00 L437.04,138.00 L435.96,140.00 L434.88,142.00 L433.80,144.00 L432.72,146.00 L431.64,148.00 L430.56,150.00 L429.43,152.00 L428.30,154.00 L427.17,156.00 L426.04,158.00 L424.91,160.00 L423.78,162.00 L422.65,164.00 L421.52,166.00 L420.39,168.00 L419.26,170.00 L418.15,172.00 L417.04,174.00 L415.92,176.00 L414.81,178.00 L413.70,180.00 L412.58,182.00 L411.47,184.00 L410.36,186.00 L409.25,188.00 L408.13,190.00 L407.02,192.00 L405.91,194.00 L404.79,196.00 L403.68,198.00 L402.57,200.00 L401.43,202.00 L400.30,204.00 L399.17,206.00 L398.04,208.00 L396.90,210.00 L395.77,212.00 L394.64,214.00 L393.51,216.00 L392.37,218.00 L391.24,220.00 L390.11,222.00 L388.98,224.00 L387.84,226.00 L386.71,228.00 L385.58,230.00 L384.45,232.00 L383.31,234.00 L382.18,236.00 L382.30,236.00 L383.54,234.00 L384.79,232.00 L386.04,230.00 L387.28,228.00 L388.53,226.00 L389.78,224.00 L391.02,222.00 L392.27,220.00 L393.45,218.00 L394.63,216.00 L395.81,214.00 L396.99,212.00 L398.17,210.00 L399.35,208.00 L400.53,206.00 L401.71,204.00 L402.89,202.00 L404.07,200.00 L405.25,198.00 L406.43,196.00 L407.61,194.00 L408.79,192.00 L409.97,190.00 L411.15,188.00 L412.32,186.00 L413.50,184.00 L414.68,182.00 L415.86,180.00 L417.21,178.00 L418.56,176.00 L419.90,174.00 L421.25,172.00 L422.60,170.00 L423.94,168.00 L425.29,166.00 L426.64,164.00 L427.98,162.00 L429.33,160.00 L430.68,158.00 L432.02,156.00 L433.37,154.00 L434.72,152.00 L436.06,150.00 L437.34,148.00 L438.62,146.00 L439.90,144.00 L441.18,142.00 L442.46,140.00 L443.74,138.00 L445.02,136.00 L446.25,134.00 L447.43,132.00 L448.61,130.00 L449.79,128.00 L450.97,126.00 L452.15,124.00 L453.33,122.00 L454.51,120.00 L455.69,118.00 L456.87,116.00 L457.96,114.00 L458.96,112.00 L459.96,110.00 L460.96,108.00 L461.96,106.00 L462.96,104.00 L463.96,102.00 L464.96,100.00 L465.96,98.00 L466.96,96.00 L467.96,94.00 L468.96,92.00 L469.96,90.00 L471.00,88.00 L472.04,86.00 L473.08,84.00 L474.12,82.00 L475.16,80.00 L476.20,78.00 L477.25,76.00 L478.29,74.00 L479.33,72.00 L480.37,70.00 L481.41,68.00 L482.45,66.00 L483.49,64.00 L484.49,62.00 L485.49,60.00 L486.49,58.00 L487.48,56.00 L488.48,54.00 L489.48,52.00 L490.48,50.00 L491.47,48.00 L492.40,46.00 L493.25,44.00 L494.10,42.00 L494.95,40.00 L495.48,38.00 L496.00,36.00 L496.52,34.00 L497.05,32.00 Z" fill="url(#bgR)"/>
<circle cx="447.90" cy="124.29" r="0.9" fill="#f9d9a8"/>
<circle cx="451.37" cy="124.17" r="0.9" fill="#ffb030"/>
<circle cx="476.36" cy="69.67" r="0.9" fill="#ffb030"/>
<circle cx="483.93" cy="51.20" r="0.9" fill="#ffa500"/>
<circle cx="441.12" cy="141.89" r="0.9" fill="#ffa500"/>
<circle cx="429.27" cy="153.47" r="0.9" fill="#f9d9a8"/>
<circle cx="423.83" cy="165.40" r="0.9" fill="#ffb030"/>
<circle cx="429.53" cy="159.12" r="0.9" fill="#ffa500"/>
<circle cx="486.51" cy="44.15" r="0.9" fill="#ffb030"/>
<circle cx="432.17" cy="154.32" r="0.9" fill="#fcc870"/>
<circle cx="452.57" cy="121.87" r="0.9" fill="#ffb030"/>
<circle cx="424.66" cy="162.62" r="0.9" fill="#ffa500"/>
<circle cx="444.09" cy="125.30" r="0.9" fill="#ffa500"/>
<circle cx="415.20" cy="176.39" r="0.9" fill="#ffb030"/>
<circle cx="435.10" cy="136.63" r="0.9" fill="#ffa500"/>
<circle cx="457.28" cy="113.68" r="0.9" fill="#f9d9a8"/>
<circle cx="484.07" cy="45.63" r="0.9" fill="#ffa500"/>
<circle cx="477.70" cy="75.55" r="0.9" fill="#ffa500"/>
<circle cx="450.64" cy="127.88" r="0.9" fill="#f9d9a8"/>
<circle cx="451.75" cy="117.64" r="0.9" fill="#ffb030"/>
<circle cx="406.86" cy="190.82" r="0.9" fill="#ffa500"/>
<circle cx="457.16" cy="95.49" r="0.9" fill="#f9d9a8"/>
<circle cx="408.39" cy="186.64" r="0.9" fill="#ffb030"/>
<circle cx="413.46" cy="176.23" r="0.9" fill="#f9d9a8"/>
<circle cx="404.33" cy="194.59" r="0.9" fill="#ffb030"/>
<circle cx="444.20" cy="123.27" r="0.9" fill="#ffb030"/>
<circle cx="449.65" cy="117.52" r="0.9" fill="#f9d9a8"/>
<circle cx="447.45" cy="117.83" r="0.9" fill="#fcc870"/>
<circle cx="400.05" cy="208.32" r="0.9" fill="#fcc870"/>
<circle cx="381.40" cy="235.57" r="0.9" fill="#ffb030"/>
<circle cx="458.01" cy="112.43" r="0.9" fill="#ffa500"/>
<circle cx="487.96" cy="40.59" r="0.9" fill="#f9d9a8"/>
<circle cx="471.24" cy="84.69" r="0.9" fill="#fcc870"/>
<circle cx="401.53" cy="201.38" r="0.9" fill="#ffa500"/>
<circle cx="487.14" cy="50.38" r="0.9" fill="#ffb030"/>
<circle cx="492.39" cy="35.16" r="0.9" fill="#f9d9a8"/>
<circle cx="483.28" cy="57.95" r="0.9" fill="#ffb030"/>
<circle cx="396.57" cy="208.77" r="0.9" fill="#ffb030"/>
<circle cx="459.60" cy="95.41" r="0.9" fill="#ffb030"/>
<circle cx="412.25" cy="179.98" r="0.9" fill="#ffb030"/>
<circle cx="418.15" cy="172.14" r="0.9" fill="#f9d9a8"/>
<circle cx="428.51" cy="155.12" r="0.9" fill="#ffa500"/>
<circle cx="484.43" cy="54.25" r="0.9" fill="#fcc870"/>
<circle cx="472.64" cy="80.64" r="0.9" fill="#fcc870"/>
<circle cx="455.65" cy="117.85" r="0.9" fill="#f9d9a8"/>
<circle cx="460.89" cy="91.86" r="0.9" fill="#ffa500"/>
<circle cx="482.26" cy="57.79" r="0.9" fill="#ffa500"/>
<circle cx="470.48" cy="89.16" r="0.9" fill="#ffb030"/>
<circle cx="409.14" cy="184.79" r="0.9" fill="#f9d9a8"/>
<circle cx="442.88" cy="122.92" r="0.9" fill="#ffb030"/>
<circle cx="466.05" cy="89.52" r="0.9" fill="#ffb030"/>
<circle cx="482.49" cy="50.81" r="0.9" fill="#f9d9a8"/>
<circle cx="384.92" cy="232.02" r="0.9" fill="#ffb030"/>
<circle cx="434.79" cy="152.33" r="0.9" fill="#f9d9a8"/>
<circle cx="393.55" cy="217.68" r="0.9" fill="#ffa500"/>
<circle cx="494.01" cy="36.34" r="0.9" fill="#f9d9a8"/>
<circle cx="486.86" cy="45.72" r="0.9" fill="#ffb030"/>
<circle cx="381.36" cy="235.87" r="0.9" fill="#fcc870"/>
<circle cx="414.94" cy="182.35" r="0.9" fill="#ffb030"/>
<circle cx="408.30" cy="193.83" r="0.9" fill="#fcc870"/>
<circle cx="486.60" cy="49.33" r="0.9" fill="#ffa500"/>
<circle cx="397.00" cy="209.70" r="0.9" fill="#ffa500"/>
<circle cx="398.51" cy="208.15" r="0.9" fill="#f9d9a8"/>
<circle cx="449.65" cy="109.35" r="0.9" fill="#ffa500"/>
<circle cx="488.74" cy="48.36" r="0.9" fill="#fcc870"/>
<circle cx="397.23" cy="211.48" r="0.9" fill="#f9d9a8"/>
<circle cx="390.65" cy="222.59" r="0.9" fill="#f9d9a8"/>
<circle cx="452.52" cy="121.87" r="0.9" fill="#ffa500"/>
<circle cx="439.66" cy="137.81" r="0.9" fill="#fcc870"/>
<circle cx="429.31" cy="154.66" r="0.9" fill="#ffb030"/>
<circle cx="386.15" cy="227.31" r="0.9" fill="#f9d9a8"/>
<circle cx="463.22" cy="84.19" r="0.9" fill="#fcc870"/>
<circle cx="481.85" cy="61.22" r="0.9" fill="#ffb030"/>
<circle cx="410.03" cy="185.77" r="0.9" fill="#f9d9a8"/>
<circle cx="439.06" cy="133.66" r="0.9" fill="#f9d9a8"/>
<circle cx="419.34" cy="167.84" r="0.9" fill="#f9d9a8"/>
<circle cx="406.30" cy="195.96" r="0.9" fill="#ffb030"/>
<circle cx="395.82" cy="211.57" r="0.9" fill="#fcc870"/>
<circle cx="469.59" cy="74.82" r="0.9" fill="#fcc870"/>
<circle cx="402.77" cy="202.77" r="0.9" fill="#ffa500"/>
<circle cx="387.47" cy="225.80" r="0.9" fill="#ffb030"/>
<circle cx="483.62" cy="55.02" r="0.9" fill="#ffb030"/>
<circle cx="401.45" cy="201.50" r="0.9" fill="#f9d9a8"/>
<circle cx="422.22" cy="169.12" r="0.9" fill="#f9d9a8"/>
<circle cx="465.35" cy="97.35" r="0.9" fill="#fcc870"/>
<circle cx="395.30" cy="210.06" r="0.9" fill="#fcc870"/>
<circle cx="431.41" cy="148.40" r="0.9" fill="#ffa500"/>
<circle cx="423.83" cy="162.76" r="0.9" fill="#ffb030"/>
<circle cx="495.33" cy="37.04" r="0.9" fill="#ffb030"/>
<circle cx="409.39" cy="190.97" r="0.9" fill="#ffa500"/>
<circle cx="449.40" cy="123.08" r="0.9" fill="#fcc870"/>
<circle cx="387.67" cy="227.53" r="0.9" fill="#ffb030"/>
<circle cx="401.68" cy="200.06" r="0.9" fill="#ffa500"/>
<circle cx="410.89" cy="186.03" r="0.9" fill="#ffa500"/>
<circle cx="474.43" cy="68.54" r="0.9" fill="#fcc870"/>
<circle cx="441.57" cy="142.10" r="0.9" fill="#ffb030"/>
<circle cx="457.35" cy="112.28" r="0.9" fill="#ffb030"/>
<circle cx="490.91" cy="49.79" r="0.9" fill="#f9d9a8"/>
<circle cx="481.62" cy="58.50" r="0.9" fill="#ffa500"/>
<circle cx="456.46" cy="108.87" r="0.9" fill="#fcc870"/>
<circle cx="447.64" cy="126.60" r="0.9" fill="#ffb030"/>
<circle cx="489.04" cy="52.19" r="0.9" fill="#ffa500"/>
<circle cx="477.43" cy="75.51" r="0.9" fill="#ffa500"/>
<circle cx="384.99" cy="231.38" r="0.9" fill="#fcc870"/>
<circle cx="470.26" cy="85.42" r="0.9" fill="#ffa500"/>
<circle cx="453.84" cy="103.10" r="0.9" fill="#f9d9a8"/>
<circle cx="458.43" cy="101.78" r="0.9" fill="#fcc870"/>
<circle cx="437.90" cy="131.44" r="0.9" fill="#ffa500"/>
<circle cx="444.44" cy="119.50" r="0.9" fill="#fcc870"/>
<circle cx="421.66" cy="172.06" r="0.9" fill="#f9d9a8"/>
<circle cx="480.28" cy="62.33" r="0.9" fill="#f9d9a8"/>
<circle cx="388.63" cy="224.93" r="0.9" fill="#ffa500"/>
<circle cx="410.07" cy="186.60" r="0.9" fill="#fcc870"/>
<circle cx="402.21" cy="201.56" r="0.9" fill="#ffb030"/>
<circle cx="442.66" cy="138.65" r="0.9" fill="#fcc870"/>
<circle cx="461.22" cy="95.59" r="0.9" fill="#ffb030"/>
<circle cx="459.31" cy="94.11" r="0.9" fill="#fcc870"/>
<circle cx="430.09" cy="148.89" r="0.9" fill="#ffa500"/>
<circle cx="442.52" cy="134.65" r="0.9" fill="#ffa500"/>
<circle cx="432.43" cy="141.82" r="0.9" fill="#f9d9a8"/>
<circle cx="441.45" cy="142.98" r="0.9" fill="#ffa500"/>
<circle cx="444.89" cy="132.17" r="0.9" fill="#ffa500"/>
<circle cx="390.28" cy="221.89" r="0.9" fill="#f9d9a8"/>
<circle cx="466.80" cy="86.92" r="0.9" fill="#ffb030"/>
<circle cx="464.17" cy="101.29" r="0.9" fill="#f9d9a8"/>
<circle cx="434.60" cy="139.10" r="0.9" fill="#f9d9a8"/>
<circle cx="431.01" cy="158.05" r="0.9" fill="#ffb030"/>
<circle cx="419.94" cy="175.23" r="0.9" fill="#ffa500"/>
<circle cx="472.31" cy="71.60" r="0.9" fill="#fcc870"/>
<circle cx="459.81" cy="97.70" r="0.9" fill="#f9d9a8"/>
<circle cx="487.07" cy="53.40" r="0.9" fill="#ffa500"/>
<circle cx="400.06" cy="205.79" r="0.9" fill="#ffb030"/>
<circle cx="419.43" cy="175.08" r="0.9" fill="#ffa500"/>
<circle cx="454.74" cy="108.65" r="0.9" fill="#ffb030"/>
<circle cx="440.91" cy="141.79" r="0.9" fill="#ffb030"/>
<circle cx="441.87" cy="140.04" r="0.9" fill="#ffb030"/>
<circle cx="473.64" cy="79.46" r="0.9" fill="#fcc870"/>
<circle cx="393.02" cy="216.15" r="0.9" fill="#fcc870"/>
<circle cx="393.92" cy="213.69" r="0.9" fill="#ffb030"/>
<circle cx="394.03" cy="213.06" r="0.9" fill="#ffb030"/>
<circle cx="477.58" cy="59.04" r="0.9" fill="#f9d9a8"/>
<circle cx="488.90" cy="51.79" r="0.9" fill="#f9d9a8"/>
<circle cx="438.63" cy="142.83" r="0.9" fill="#ffb030"/>
<circle cx="455.11" cy="114.17" r="0.9" fill="#ffa500"/>
<circle cx="486.38" cy="51.60" r="0.9" fill="#fcc870"/>
<circle cx="394.38" cy="217.92" r="0.9" fill="#ffa500"/>
<circle cx="417.50" cy="175.76" r="0.9" fill="#fcc870"/>
<circle cx="443.45" cy="134.57" r="0.9" fill="#ffb030"/>
<circle cx="405.12" cy="195.78" r="0.9" fill="#ffa500"/>
<circle cx="492.06" cy="39.64" r="0.9" fill="#f9d9a8"/>
<circle cx="477.05" cy="61.90" r="0.9" fill="#ffb030"/>
<circle cx="473.94" cy="67.19" r="0.9" fill="#fcc870"/>
<circle cx="389.51" cy="221.09" r="0.9" fill="#ffa500"/>
<circle cx="483.48" cy="59.43" r="0.9" fill="#ffa500"/>
<circle cx="408.71" cy="188.00" r="0.9" fill="#f9d9a8"/>
<circle cx="448.49" cy="118.99" r="0.9" fill="#ffb030"/>
<circle cx="425.20" cy="154.59" r="0.9" fill="#ffa500"/>
<circle cx="399.06" cy="204.23" r="0.9" fill="#f9d9a8"/>
<circle cx="455.97" cy="105.35" r="0.9" fill="#ffb030"/>
<circle cx="425.48" cy="155.39" r="0.9" fill="#ffa500"/>
<circle cx="394.8" cy="211.3" r="0.9" fill="#80c0ff"/>
<polygon points="490.1,52.5 491.6,53.0 486.8,60.0 485.6,64.0 484.4,67.6 481.6,67.6 482.6,64.0 484.5,60.0" fill="#f57474"/>
<circle cx="487.45" cy="57.65" r="0.95" fill="#f01010"/>
<circle cx="482.76" cy="63.72" r="0.95" fill="#f01010"/>
<circle cx="483.20" cy="66.60" r="0.95" fill="#f01010"/>
<circle cx="486.99" cy="58.09" r="0.95" fill="#f01010"/>
<circle cx="482.61" cy="65.91" r="0.95" fill="#f01010"/>
<circle cx="486.75" cy="60.01" r="0.95" fill="#f01010"/>
<circle cx="485.55" cy="61.18" r="0.95" fill="#f01010"/>
<circle cx="485.01" cy="60.66" r="0.95" fill="#f01010"/>
<circle cx="485.76" cy="60.36" r="0.95" fill="#f01010"/>
<circle cx="490.06" cy="54.00" r="0.95" fill="#f01010"/>
<circle cx="486.04" cy="62.23" r="0.95" fill="#f01010"/>
<polygon points="479.8,71.5 484.8,71.5 482.8,75.6 481.0,80.0 478.8,80.0 476.0,75.6" fill="#f57474"/>
<circle cx="480.83" cy="77.18" r="0.95" fill="#f01010"/>
<circle cx="480.77" cy="76.57" r="0.95" fill="#f01010"/>
<circle cx="479.78" cy="75.70" r="0.95" fill="#f01010"/>
<circle cx="478.50" cy="74.89" r="0.95" fill="#f01010"/>
<circle cx="478.75" cy="76.01" r="0.95" fill="#f01010"/>
<circle cx="480.25" cy="73.79" r="0.95" fill="#f01010"/>
<polygon points="474.0,81.0 477.5,81.0 476.5,84.5 473.0,84.5" fill="#f57474"/>
<circle cx="476.36" cy="81.09" r="0.95" fill="#f01010"/>
<circle cx="476.48" cy="83.05" r="0.95" fill="#f01010"/>
<polygon points="472.0,84.0 477.5,84.0 475.5,87.0 471.0,87.0" fill="#f57474"/>
<circle cx="475.11" cy="85.23" r="0.95" fill="#f01010"/>
<circle cx="475.45" cy="84.16" r="0.95" fill="#f01010"/>
<circle cx="495.70" cy="35.10" r="1.15" fill="#f41818"/>
<circle cx="495.12" cy="34.79" r="1.0" fill="#f52a2a"/>
<circle cx="493.50" cy="41.70" r="1.15" fill="#f41818"/>
<circle cx="493.54" cy="42.37" r="1.0" fill="#f52a2a"/>
<circle cx="492.80" cy="43.80" r="1.15" fill="#f41818"/>
<circle cx="492.23" cy="44.69" r="1.0" fill="#f52a2a"/>
<circle cx="489.20" cy="54.70" r="1.15" fill="#f41818"/>
<circle cx="488.41" cy="55.36" r="1.0" fill="#f52a2a"/>
<circle cx="487.70" cy="57.60" r="1.15" fill="#f41818"/>
<circle cx="486.98" cy="58.37" r="1.0" fill="#f52a2a"/>
<circle cx="486.30" cy="60.50" r="1.15" fill="#f41818"/>
<circle cx="485.10" cy="59.30" r="1.0" fill="#f52a2a"/>
<circle cx="484.10" cy="63.40" r="1.15" fill="#f41818"/>
<circle cx="484.66" cy="64.63" r="1.0" fill="#f52a2a"/>
<circle cx="485.00" cy="62.90" r="1.15" fill="#f41818"/>
<circle cx="484.03" cy="64.28" r="1.0" fill="#f52a2a"/>
<circle cx="483.60" cy="66.50" r="1.15" fill="#f41818"/>
<circle cx="482.86" cy="67.12" r="1.0" fill="#f52a2a"/>
<circle cx="482.20" cy="71.60" r="1.15" fill="#f41818"/>
<circle cx="481.02" cy="71.35" r="1.0" fill="#f52a2a"/>
<circle cx="480.00" cy="75.20" r="1.15" fill="#f41818"/>
<circle cx="478.97" cy="76.28" r="1.0" fill="#f52a2a"/>
<circle cx="477.10" cy="75.20" r="1.15" fill="#f41818"/>
<circle cx="476.62" cy="74.16" r="1.0" fill="#f52a2a"/>
<circle cx="478.50" cy="78.80" r="1.15" fill="#f41818"/>
<circle cx="478.04" cy="77.72" r="1.0" fill="#f52a2a"/>
<circle cx="474.90" cy="82.50" r="1.15" fill="#f41818"/>
<circle cx="474.56" cy="82.80" r="1.0" fill="#f52a2a"/>
<circle cx="472.70" cy="85.40" r="1.15" fill="#f41818"/>
<circle cx="472.87" cy="85.95" r="1.0" fill="#f52a2a"/>
<circle cx="469.80" cy="88.30" r="1.15" fill="#f41818"/>
<circle cx="469.34" cy="89.03" r="1.0" fill="#f52a2a"/>
<circle cx="467.70" cy="88.30" r="1.15" fill="#f41818"/>
<circle cx="468.27" cy="87.21" r="1.0" fill="#f52a2a"/>
<circle cx="466.90" cy="92.60" r="1.15" fill="#f41818"/>
<circle cx="466.27" cy="91.49" r="1.0" fill="#f52a2a"/>
<circle cx="464.30" cy="101.50" r="1.15" fill="#f41818"/>
<circle cx="464.11" cy="101.51" r="1.0" fill="#f52a2a"/>
<circle cx="460.70" cy="105.10" r="1.15" fill="#f41818"/>
<circle cx="460.11" cy="105.12" r="1.0" fill="#f52a2a"/>
<circle cx="457.10" cy="105.90" r="1.15" fill="#f41818"/>
<circle cx="457.75" cy="105.22" r="1.0" fill="#f52a2a"/>
<circle cx="457.10" cy="110.90" r="1.15" fill="#f41818"/>
<circle cx="457.20" cy="111.58" r="1.0" fill="#f52a2a"/>
<circle cx="454.20" cy="113.80" r="1.15" fill="#f41818"/>
<circle cx="454.51" cy="112.87" r="1.0" fill="#f52a2a"/>
<circle cx="452.00" cy="116.70" r="1.15" fill="#f41818"/>
<circle cx="451.34" cy="115.92" r="1.0" fill="#f52a2a"/>
<circle cx="453.50" cy="119.60" r="1.15" fill="#f41818"/>
<circle cx="454.39" cy="119.61" r="1.0" fill="#f52a2a"/>
<circle cx="450.60" cy="121.80" r="1.15" fill="#f41818"/>
<circle cx="450.80" cy="120.89" r="1.0" fill="#f52a2a"/>
<circle cx="449.10" cy="124.00" r="1.15" fill="#f41818"/>
<circle cx="449.37" cy="124.39" r="1.0" fill="#f52a2a"/>
<circle cx="447.00" cy="125.40" r="1.15" fill="#f41818"/>
<circle cx="445.72" cy="124.68" r="1.0" fill="#f52a2a"/>
<circle cx="445.50" cy="127.60" r="1.15" fill="#f41818"/>
<circle cx="444.26" cy="126.21" r="1.0" fill="#f52a2a"/>
<circle cx="444.00" cy="129.80" r="1.15" fill="#f41818"/>
<circle cx="443.21" cy="129.13" r="1.0" fill="#f52a2a"/>
<circle cx="441.10" cy="133.40" r="1.15" fill="#f41818"/>
<circle cx="441.54" cy="134.64" r="1.0" fill="#f52a2a"/>
<circle cx="444.30" cy="132.20" r="1.15" fill="#f41818"/>
<circle cx="443.37" cy="131.40" r="1.0" fill="#f52a2a"/>
<circle cx="442.20" cy="136.50" r="1.15" fill="#f41818"/>
<circle cx="443.16" cy="136.45" r="1.0" fill="#f52a2a"/>
<circle cx="441.40" cy="139.40" r="1.15" fill="#f41818"/>
<circle cx="440.91" cy="138.91" r="1.0" fill="#f52a2a"/>
<circle cx="439.30" cy="143.00" r="1.15" fill="#f41818"/>
<circle cx="439.14" cy="141.90" r="1.0" fill="#f52a2a"/>
<circle cx="436.40" cy="148.80" r="1.15" fill="#f41818"/>
<circle cx="437.10" cy="149.71" r="1.0" fill="#f52a2a"/>
<circle cx="434.90" cy="148.80" r="1.15" fill="#f41818"/>
<circle cx="434.63" cy="149.77" r="1.0" fill="#f52a2a"/>
<circle cx="433.50" cy="151.70" r="1.15" fill="#f41818"/>
<circle cx="434.13" cy="152.51" r="1.0" fill="#f52a2a"/>
<circle cx="433.22" cy="152.44" r="1.0" fill="#f52a2a"/>
<circle cx="432.70" cy="154.60" r="1.15" fill="#f41818"/>
<circle cx="432.30" cy="153.55" r="1.0" fill="#f52a2a"/>
<circle cx="431.75" cy="155.61" r="1.0" fill="#f52a2a"/>
<circle cx="429.80" cy="156.80" r="1.15" fill="#f41818"/>
<circle cx="429.87" cy="156.17" r="1.0" fill="#f52a2a"/>
<circle cx="430.25" cy="157.78" r="1.0" fill="#f52a2a"/>
<circle cx="428.40" cy="159.00" r="1.15" fill="#f41818"/>
<circle cx="427.52" cy="159.46" r="1.0" fill="#f52a2a"/>
<circle cx="428.44" cy="158.89" r="1.0" fill="#f52a2a"/>
<circle cx="426.20" cy="162.60" r="1.15" fill="#f41818"/>
<circle cx="425.65" cy="162.73" r="1.0" fill="#f52a2a"/>
<circle cx="425.89" cy="162.80" r="1.0" fill="#f52a2a"/>
<circle cx="424.80" cy="164.80" r="1.15" fill="#f41818"/>
<circle cx="425.38" cy="164.69" r="1.0" fill="#f52a2a"/>
<circle cx="425.39" cy="163.33" r="1.0" fill="#f52a2a"/>
<circle cx="421.10" cy="168.00" r="1.15" fill="#f41818"/>
<circle cx="420.51" cy="169.23" r="1.0" fill="#f52a2a"/>
<circle cx="421.19" cy="168.59" r="1.0" fill="#f52a2a"/>
<circle cx="428.60" cy="162.90" r="1.15" fill="#f41818"/>
<circle cx="428.44" cy="163.69" r="1.0" fill="#f52a2a"/>
<circle cx="428.05" cy="164.05" r="1.0" fill="#f52a2a"/>
<circle cx="425.70" cy="167.20" r="1.15" fill="#f41818"/>
<circle cx="424.90" cy="167.67" r="1.0" fill="#f52a2a"/>
<circle cx="425.15" cy="168.42" r="1.0" fill="#f52a2a"/>
<circle cx="423.50" cy="170.10" r="1.15" fill="#f41818"/>
<circle cx="422.94" cy="169.92" r="1.0" fill="#f52a2a"/>
<circle cx="423.57" cy="171.31" r="1.0" fill="#f52a2a"/>
<circle cx="421.40" cy="173.00" r="1.15" fill="#f41818"/>
<circle cx="421.68" cy="172.34" r="1.0" fill="#f52a2a"/>
<circle cx="421.32" cy="174.48" r="1.0" fill="#f52a2a"/>
<circle cx="419.20" cy="176.70" r="1.15" fill="#f41818"/>
<circle cx="418.95" cy="175.86" r="1.0" fill="#f52a2a"/>
<circle cx="420.13" cy="177.39" r="1.0" fill="#f52a2a"/>
<circle cx="417.70" cy="178.80" r="1.15" fill="#f41818"/>
<circle cx="417.59" cy="177.55" r="1.0" fill="#f52a2a"/>
<circle cx="418.31" cy="177.37" r="1.0" fill="#f52a2a"/>
<circle cx="415.60" cy="181.70" r="1.15" fill="#f41818"/>
<circle cx="415.86" cy="181.95" r="1.0" fill="#f52a2a"/>
<circle cx="416.13" cy="182.42" r="1.0" fill="#f52a2a"/>
<circle cx="414.10" cy="183.90" r="1.15" fill="#f41818"/>
<circle cx="413.65" cy="183.57" r="1.0" fill="#f52a2a"/>
<circle cx="413.16" cy="184.17" r="1.0" fill="#f52a2a"/>
<circle cx="411.90" cy="186.80" r="1.15" fill="#f41818"/>
<circle cx="411.01" cy="185.57" r="1.0" fill="#f52a2a"/>
<circle cx="411.65" cy="187.86" r="1.0" fill="#f52a2a"/>
<circle cx="410.50" cy="190.40" r="1.15" fill="#f41818"/>
<circle cx="411.07" cy="189.56" r="1.0" fill="#f52a2a"/>
<circle cx="409.33" cy="189.38" r="1.0" fill="#f52a2a"/>
<circle cx="406.90" cy="194.10" r="1.15" fill="#f41818"/>
<circle cx="406.28" cy="192.67" r="1.0" fill="#f52a2a"/>
<circle cx="407.54" cy="193.87" r="1.0" fill="#f52a2a"/>
<circle cx="410.50" cy="194.10" r="1.15" fill="#f41818"/>
<circle cx="410.54" cy="193.52" r="1.0" fill="#f52a2a"/>
<circle cx="410.45" cy="193.60" r="1.0" fill="#f52a2a"/>
<circle cx="406.60" cy="196.80" r="1.15" fill="#f41818"/>
<circle cx="405.93" cy="195.62" r="1.0" fill="#f52a2a"/>
<circle cx="406.02" cy="195.38" r="1.0" fill="#f52a2a"/>
<circle cx="401.20" cy="203.20" r="1.15" fill="#f41818"/>
<circle cx="401.40" cy="201.99" r="1.0" fill="#f52a2a"/>
<circle cx="401.78" cy="202.97" r="1.0" fill="#f52a2a"/>
<circle cx="398.50" cy="210.40" r="1.15" fill="#f41818"/>
<circle cx="398.84" cy="210.37" r="1.0" fill="#f52a2a"/>
<circle cx="399.29" cy="209.91" r="1.0" fill="#f52a2a"/>
<circle cx="396.60" cy="213.10" r="1.15" fill="#f41818"/>
<circle cx="396.36" cy="212.65" r="1.0" fill="#f52a2a"/>
<circle cx="397.16" cy="212.60" r="1.0" fill="#f52a2a"/>
<circle cx="391.20" cy="220.40" r="1.15" fill="#f41818"/>
<circle cx="390.21" cy="220.36" r="1.0" fill="#f52a2a"/>
<circle cx="391.75" cy="219.12" r="1.0" fill="#f52a2a"/>
<circle cx="386.70" cy="231.20" r="1.15" fill="#f41818"/>
<circle cx="386.82" cy="229.84" r="1.0" fill="#f52a2a"/>
<circle cx="387.14" cy="232.66" r="1.0" fill="#f52a2a"/>
<circle cx="456.87" cy="104.60" r="1.05" fill="#f42020"/>
<circle cx="454.34" cy="109.93" r="1.05" fill="#f42020"/>
<circle cx="448.51" cy="125.96" r="1.05" fill="#f42020"/>
<circle cx="490.80" cy="44.50" r="1.05" fill="#f42020"/>
<circle cx="490.99" cy="41.88" r="1.05" fill="#f42020"/>
<circle cx="400.90" cy="210.86" r="1.05" fill="#f42020"/>
<circle cx="468.74" cy="85.46" r="1.05" fill="#f42020"/>
<circle cx="431.04" cy="157.51" r="1.05" fill="#f42020"/>
<circle cx="462.31" cy="99.36" r="1.05" fill="#f42020"/>
<circle cx="439.93" cy="137.88" r="1.05" fill="#f42020"/>
<circle cx="403.35" cy="203.93" r="1.05" fill="#f42020"/>
<circle cx="418.86" cy="175.19" r="1.05" fill="#f42020"/>
<circle cx="481.26" cy="68.77" r="1.05" fill="#f42020"/>
<circle cx="401.58" cy="208.76" r="1.05" fill="#f42020"/>
<circle cx="491.92" cy="43.18" r="1.05" fill="#f42020"/>
<circle cx="411.61" cy="188.07" r="1.05" fill="#f42020"/>
<circle cx="474.48" cy="76.56" r="1.05" fill="#f42020"/>
<circle cx="435.55" cy="148.84" r="1.05" fill="#f42020"/>
<circle cx="447.52" cy="127.30" r="1.05" fill="#f42020"/>
<circle cx="453.55" cy="121.76" r="1.05" fill="#f42020"/>
<circle cx="457.89" cy="114.46" r="1.05" fill="#f42020"/>
<circle cx="398.26" cy="213.41" r="1.05" fill="#f42020"/>
<circle cx="397.46" cy="214.27" r="1.05" fill="#f42020"/>
<circle cx="406.93" cy="197.88" r="1.05" fill="#f42020"/>
<circle cx="458.22" cy="114.48" r="1.05" fill="#f42020"/>
<circle cx="428.87" cy="162.15" r="1.05" fill="#f42020"/>
<circle cx="486.90" cy="57.10" r="1.05" fill="#f42020"/>
<circle cx="452.99" cy="113.89" r="1.05" fill="#f42020"/>
<circle cx="482.73" cy="64.84" r="1.05" fill="#f42020"/>
<circle cx="394.44" cy="220.57" r="1.05" fill="#f42020"/>
<circle cx="416.45" cy="183.22" r="1.05" fill="#f42020"/>
<circle cx="490.33" cy="50.72" r="1.05" fill="#f42020"/>
<circle cx="404.36" cy="205.06" r="1.05" fill="#f42020"/>
<circle cx="401.15" cy="207.47" r="1.05" fill="#f42020"/>
<circle cx="469.98" cy="85.61" r="1.05" fill="#f42020"/>
<circle cx="404.34" cy="201.84" r="1.05" fill="#f42020"/>
<circle cx="413.79" cy="182.81" r="1.05" fill="#f42020"/>
<circle cx="402.27" cy="208.00" r="1.05" fill="#f42020"/>
<circle cx="482.78" cy="64.26" r="1.05" fill="#f42020"/>
<circle cx="431.78" cy="154.61" r="1.05" fill="#f42020"/>
<circle cx="489.21" cy="49.79" r="1.05" fill="#f42020"/>
<circle cx="475.63" cy="72.99" r="1.05" fill="#f42020"/>
<circle cx="398.77" cy="209.50" r="1.05" fill="#f42020"/>
<circle cx="481.24" cy="63.76" r="1.05" fill="#f42020"/>
<circle cx="432.33" cy="153.75" r="1.05" fill="#f42020"/>
<circle cx="403.89" cy="204.59" r="1.05" fill="#f42020"/>
<circle cx="487.27" cy="55.33" r="1.05" fill="#f42020"/>
<circle cx="439.91" cy="140.53" r="1.05" fill="#f42020"/>
<circle cx="490.52" cy="43.52" r="1.05" fill="#f42020"/>
<circle cx="476.50" cy="75.72" r="1.05" fill="#f42020"/>
<circle cx="414.14" cy="184.56" r="1.05" fill="#f42020"/>
<circle cx="489.93" cy="46.89" r="1.05" fill="#f42020"/>
<circle cx="448.31" cy="131.42" r="1.05" fill="#f42020"/>
<circle cx="394.24" cy="218.33" r="1.05" fill="#f42020"/>
<circle cx="454.93" cy="115.01" r="1.05" fill="#f42020"/>
<circle cx="391.56" cy="224.49" r="1.05" fill="#f42020"/>
<circle cx="485.71" cy="52.40" r="1.05" fill="#f42020"/>
<circle cx="481.52" cy="66.00" r="1.05" fill="#f42020"/>
<circle cx="427.08" cy="165.03" r="1.05" fill="#f42020"/>
<circle cx="412.40" cy="185.12" r="1.05" fill="#f42020"/>
<line x1="378.70" y1="240.50" x2="608.70" y2="240.50" stroke="#3030ff" stroke-width="1.15" stroke-dasharray="1 1.85" stroke-opacity="0.62"/>
<line x1="378.70" y1="240.50" x2="493.70" y2="27.50" stroke="#3030ff" stroke-width="1.15" stroke-dasharray="1 1.85" stroke-opacity="0.62"/>
<line x1="608.70" y1="240.50" x2="493.70" y2="27.50" stroke="#3030ff" stroke-width="1.15" stroke-dasharray="1 1.85" stroke-opacity="0.62"/>
<line x1="390.20" y1="219.20" x2="597.20" y2="219.20" stroke="#3030ff" stroke-width="1.15" stroke-dasharray="1 1.85" stroke-opacity="0.62"/>
<line x1="401.70" y1="240.50" x2="505.20" y2="48.80" stroke="#3030ff" stroke-width="1.15" stroke-dasharray="1 1.85" stroke-opacity="0.62"/>
<line x1="585.70" y1="240.50" x2="482.20" y2="48.80" stroke="#3030ff" stroke-width="1.15" stroke-dasharray="1 1.85" stroke-opacity="0.62"/>
<line x1="401.70" y1="197.90" x2="585.70" y2="197.90" stroke="#3030ff" stroke-width="1.15" stroke-dasharray="1 1.85" stroke-opacity="0.62"/>
<line x1="424.70" y1="240.50" x2="516.70" y2="70.10" stroke="#3030ff" stroke-width="1.15" stroke-dasharray="1 1.85" stroke-opacity="0.62"/>
<line x1="562.70" y1="240.50" x2="470.70" y2="70.10" stroke="#3030ff" stroke-width="1.15" stroke-dasharray="1 1.85" stroke-opacity="0.62"/>
<line x1="413.20" y1="176.60" x2="574.20" y2="176.60" stroke="#3030ff" stroke-width="1.15" stroke-dasharray="1 1.85" stroke-opacity="0.62"/>
<line x1="447.70" y1="240.50" x2="528.20" y2="91.40" stroke="#3030ff" stroke-width="1.15" stroke-dasharray="1 1.85" stroke-opacity="0.62"/>
<line x1="539.70" y1="240.50" x2="459.20" y2="91.40" stroke="#3030ff" stroke-width="1.15" stroke-dasharray="1 1.85" stroke-opacity="0.62"/>
<line x1="424.70" y1="155.30" x2="562.70" y2="155.30" stroke="#3030ff" stroke-width="1.15" stroke-dasharray="1 1.85" stroke-opacity="0.62"/>
<line x1="470.70" y1="240.50" x2="539.70" y2="112.70" stroke="#3030ff" stroke-width="1.15" stroke-dasharray="1 1.85" stroke-opacity="0.62"/>
<line x1="516.70" y1="240.50" x2="447.70" y2="112.70" stroke="#3030ff" stroke-width="1.15" stroke-dasharray="1 1.85" stroke-opacity="0.62"/>
<line x1="436.20" y1="134.00" x2="551.20" y2="134.00" stroke="#3030ff" stroke-width="1.15" stroke-dasharray="1 1.85" stroke-opacity="0.62"/>
<line x1="493.70" y1="240.50" x2="551.20" y2="134.00" stroke="#3030ff" stroke-width="1.15" stroke-dasharray="1 1.85" stroke-opacity="0.62"/>
<line x1="493.70" y1="240.50" x2="436.20" y2="134.00" stroke="#3030ff" stroke-width="1.15" stroke-dasharray="1 1.85" stroke-opacity="0.62"/>
<line x1="447.70" y1="112.70" x2="539.70" y2="112.70" stroke="#3030ff" stroke-width="1.15" stroke-dasharray="1 1.85" stroke-opacity="0.62"/>
<line x1="516.70" y1="240.50" x2="562.70" y2="155.30" stroke="#3030ff" stroke-width="1.15" stroke-dasharray="1 1.85" stroke-opacity="0.62"/>
<line x1="470.70" y1="240.50" x2="424.70" y2="155.30" stroke="#3030ff" stroke-width="1.15" stroke-dasharray="1 1.85" stroke-opacity="0.62"/>
<line x1="459.20" y1="91.40" x2="528.20" y2="91.40" stroke="#3030ff" stroke-width="1.15" stroke-dasharray="1 1.85" stroke-opacity="0.62"/>
<line x1="539.70" y1="240.50" x2="574.20" y2="176.60" stroke="#3030ff" stroke-width="1.15" stroke-dasharray="1 1.85" stroke-opacity="0.62"/>
<line x1="447.70" y1="240.50" x2="413.20" y2="176.60" stroke="#3030ff" stroke-width="1.15" stroke-dasharray="1 1.85" stroke-opacity="0.62"/>
<line x1="470.70" y1="70.10" x2="516.70" y2="70.10" stroke="#3030ff" stroke-width="1.15" stroke-dasharray="1 1.85" stroke-opacity="0.62"/>
<line x1="562.70" y1="240.50" x2="585.70" y2="197.90" stroke="#3030ff" stroke-width="1.15" stroke-dasharray="1 1.85" stroke-opacity="0.62"/>
<line x1="424.70" y1="240.50" x2="401.70" y2="197.90" stroke="#3030ff" stroke-width="1.15" stroke-dasharray="1 1.85" stroke-opacity="0.62"/>
<line x1="482.20" y1="48.80" x2="505.20" y2="48.80" stroke="#3030ff" stroke-width="1.15" stroke-dasharray="1 1.85" stroke-opacity="0.62"/>
<line x1="585.70" y1="240.50" x2="597.20" y2="219.20" stroke="#3030ff" stroke-width="1.15" stroke-dasharray="1 1.85" stroke-opacity="0.62"/>
<line x1="401.70" y1="240.50" x2="390.20" y2="219.20" stroke="#3030ff" stroke-width="1.15" stroke-dasharray="1 1.85" stroke-opacity="0.62"/>
<text x="492.40" y="23.69" text-anchor="middle" style="font-family:'Liberation Sans',sans-serif;font-size:8.3px;fill:#111;stroke:#111;stroke-width:0.28">0.0</text>
<text x="493.40" y="27.99" style="font-family:'Liberation Sans',sans-serif;font-size:8.3px;fill:#111;stroke:#111;stroke-width:0.28">1.0</text>
<text x="376.10" y="248.49" text-anchor="middle" style="font-family:'Liberation Sans',sans-serif;font-size:8.3px;fill:#111;stroke:#111;stroke-width:0.28">0.0</text>
<text x="480.82" y="45.09" text-anchor="middle" style="font-family:'Liberation Sans',sans-serif;font-size:8.3px;fill:#111;stroke:#111;stroke-width:0.28">0.1</text>
<text x="504.95" y="49.39" style="font-family:'Liberation Sans',sans-serif;font-size:8.3px;fill:#111;stroke:#111;stroke-width:0.28">0.9</text>
<text x="399.40" y="248.49" text-anchor="middle" style="font-family:'Liberation Sans',sans-serif;font-size:8.3px;fill:#111;stroke:#111;stroke-width:0.28">0.1</text>
<text x="469.24" y="66.49" text-anchor="middle" style="font-family:'Liberation Sans',sans-serif;font-size:8.3px;fill:#111;stroke:#111;stroke-width:0.28">0.2</text>
<text x="516.50" y="70.79" style="font-family:'Liberation Sans',sans-serif;font-size:8.3px;fill:#111;stroke:#111;stroke-width:0.28">0.8</text>
<text x="422.70" y="248.49" text-anchor="middle" style="font-family:'Liberation Sans',sans-serif;font-size:8.3px;fill:#111;stroke:#111;stroke-width:0.28">0.2</text>
<text x="457.66" y="87.89" text-anchor="middle" style="font-family:'Liberation Sans',sans-serif;font-size:8.3px;fill:#111;stroke:#111;stroke-width:0.28">0.3</text>
<text x="528.05" y="92.19" style="font-family:'Liberation Sans',sans-serif;font-size:8.3px;fill:#111;stroke:#111;stroke-width:0.28">0.7</text>
<text x="446.00" y="248.49" text-anchor="middle" style="font-family:'Liberation Sans',sans-serif;font-size:8.3px;fill:#111;stroke:#111;stroke-width:0.28">0.3</text>
<text x="446.08" y="109.29" text-anchor="middle" style="font-family:'Liberation Sans',sans-serif;font-size:8.3px;fill:#111;stroke:#111;stroke-width:0.28">0.4</text>
<text x="539.60" y="113.59" style="font-family:'Liberation Sans',sans-serif;font-size:8.3px;fill:#111;stroke:#111;stroke-width:0.28">0.6</text>
<text x="469.30" y="248.49" text-anchor="middle" style="font-family:'Liberation Sans',sans-serif;font-size:8.3px;fill:#111;stroke:#111;stroke-width:0.28">0.4</text>
<text x="434.50" y="130.69" text-anchor="middle" style="font-family:'Liberation Sans',sans-serif;font-size:8.3px;fill:#111;stroke:#111;stroke-width:0.28">0.5</text>
<text x="551.15" y="134.99" style="font-family:'Liberation Sans',sans-serif;font-size:8.3px;fill:#111;stroke:#111;stroke-width:0.28">0.5</text>
<text x="492.60" y="248.49" text-anchor="middle" style="font-family:'Liberation Sans',sans-serif;font-size:8.3px;fill:#111;stroke:#111;stroke-width:0.28">0.5</text>
<text x="422.92" y="152.09" text-anchor="middle" style="font-family:'Liberation Sans',sans-serif;font-size:8.3px;fill:#111;stroke:#111;stroke-width:0.28">0.6</text>
<text x="562.70" y="156.39" style="font-family:'Liberation Sans',sans-serif;font-size:8.3px;fill:#111;stroke:#111;stroke-width:0.28">0.4</text>
<text x="515.90" y="248.49" text-anchor="middle" style="font-family:'Liberation Sans',sans-serif;font-size:8.3px;fill:#111;stroke:#111;stroke-width:0.28">0.6</text>
<text x="411.34" y="173.49" text-anchor="middle" style="font-family:'Liberation Sans',sans-serif;font-size:8.3px;fill:#111;stroke:#111;stroke-width:0.28">0.7</text>
<text x="574.25" y="177.79" style="font-family:'Liberation Sans',sans-serif;font-size:8.3px;fill:#111;stroke:#111;stroke-width:0.28">0.3</text>
<text x="539.20" y="248.49" text-anchor="middle" style="font-family:'Liberation Sans',sans-serif;font-size:8.3px;fill:#111;stroke:#111;stroke-width:0.28">0.7</text>
<text x="399.76" y="194.89" text-anchor="middle" style="font-family:'Liberation Sans',sans-serif;font-size:8.3px;fill:#111;stroke:#111;stroke-width:0.28">0.8</text>
<text x="585.80" y="199.19" style="font-family:'Liberation Sans',sans-serif;font-size:8.3px;fill:#111;stroke:#111;stroke-width:0.28">0.2</text>
<text x="562.50" y="248.49" text-anchor="middle" style="font-family:'Liberation Sans',sans-serif;font-size:8.3px;fill:#111;stroke:#111;stroke-width:0.28">0.8</text>
<text x="388.18" y="216.29" text-anchor="middle" style="font-family:'Liberation Sans',sans-serif;font-size:8.3px;fill:#111;stroke:#111;stroke-width:0.28">0.9</text>
<text x="597.35" y="220.59" style="font-family:'Liberation Sans',sans-serif;font-size:8.3px;fill:#111;stroke:#111;stroke-width:0.28">0.1</text>
<text x="585.80" y="248.49" text-anchor="middle" style="font-family:'Liberation Sans',sans-serif;font-size:8.3px;fill:#111;stroke:#111;stroke-width:0.28">0.9</text>
<text x="376.60" y="237.69" text-anchor="middle" style="font-family:'Liberation Sans',sans-serif;font-size:8.3px;fill:#111;stroke:#111;stroke-width:0.28">1.0</text>
<text x="608.90" y="241.99" style="font-family:'Liberation Sans',sans-serif;font-size:8.3px;fill:#111;stroke:#111;stroke-width:0.28">0.0</text>
<text x="609.10" y="248.49" text-anchor="middle" style="font-family:'Liberation Sans',sans-serif;font-size:8.3px;fill:#111;stroke:#111;stroke-width:0.28">1.0</text>
<text x="507.30" y="30.6" textLength="42.8" lengthAdjust="spacingAndGlyphs" style="font-family:'Liberation Sans',sans-serif;font-size:7.6px;fill:#111;stroke:#111;stroke-width:0.1">Pure higgsino</text>
<text transform="translate(362.30,263.9) rotate(-90)" textLength="28.2" lengthAdjust="spacingAndGlyphs" style="font-family:'Liberation Sans',sans-serif;font-size:7.9px;fill:#111;stroke:#111;stroke-width:0.22">Pure bino</text>
<text transform="translate(624.60,235.5) rotate(90)" textLength="28.2" lengthAdjust="spacingAndGlyphs" style="font-family:'Liberation Sans',sans-serif;font-size:7.9px;fill:#111;stroke:#111;stroke-width:0.22">Pure wino</text>
<text x="478.10" y="272.5" style="font-family:'Liberation Serif',serif;font-style:italic;fill:#111;stroke:#111;stroke-width:0.2;font-size:16px">N<tspan dx="1.2" dy="-5" font-size="9.4" font-style="normal">2</tspan><tspan dx="-5.3" dy="7.8" font-size="9.4" font-style="normal">12</tspan><tspan dy="-2.8"> </tspan></text>
<g transform="translate(411.50,133.2) rotate(-61.6)"><text x="0" y="5" text-anchor="middle" style="font-family:'Liberation Serif',serif;font-style:italic;fill:#111;stroke:#111;stroke-width:0.2;font-size:16px">N<tspan dx="1.2" dy="-5" font-size="9.4" font-style="normal">2</tspan><tspan dx="-5.3" dy="7.8" font-size="9.4" font-style="normal">11</tspan><tspan dy="-2.8"> </tspan></text></g>
<g transform="translate(576.60,133.9) rotate(61.6)"><text x="0" y="5" text-anchor="middle" style="font-family:'Liberation Serif',serif;font-style:italic;fill:#111;stroke:#111;stroke-width:0.2;font-size:16px">N<tspan dx="1.2" dy="-5" font-size="9.4" font-style="normal">2</tspan><tspan dx="-5.3" dy="7.8" font-size="9.4" font-style="normal">13</tspan><tspan dy="-2.8"> </tspan><tspan font-style="normal" font-size="19" dy="1">+</tspan><tspan dy="-1"> </tspan>N<tspan dx="1.2" dy="-5" font-size="9.4" font-style="normal">2</tspan><tspan dx="-5.3" dy="7.8" font-size="9.4" font-style="normal">14</tspan><tspan dy="-2.8"> </tspan></text></g>
<polygon points="493.90,26.00 494.71,28.18 497.04,28.28 495.22,29.73 495.84,31.97 493.90,30.69 491.96,31.97 492.58,29.73 490.76,28.28 493.09,28.18" fill="#052a0c" stroke="#000" stroke-width="0.5"/>
<circle cx="379.4" cy="239.6" r="1.5" fill="#1868f0"/>
<text x="402.90" y="9.5" style="font-family:'Liberation Sans',sans-serif;font-size:10.3px;fill:#111;stroke:#111;stroke-width:0.25">sub-GUT</text>
<text x="448.8" y="9.3" textLength="17.5" lengthAdjust="spacingAndGlyphs" style="font-family:'Liberation Serif',serif;font-size:10.5px;fill:#111;stroke:#111;stroke-width:0.1">w/o</text>
<text x="470.10" y="9.3" textLength="28.6" lengthAdjust="spacing" style="font-family:'Liberation Serif',serif;font-size:10.5px;fill:#111;stroke:#111;stroke-width:0.1">(g − 2)</text>
<text x="500.20" y="11.2" style="font-family:'Liberation Serif',serif;font-style:italic;font-size:7.4px;fill:#111">μ</text>
<text x="518.20" y="9.6" style="font-family:'Liberation Serif',serif;font-style:italic;font-size:11.3px;fill:#111;stroke:#111;stroke-width:0.15">χ</text>
<text x="524.60" y="5.9" style="font-family:'Liberation Serif',serif;font-size:7.6px;fill:#111;stroke:#111;stroke-width:0.15">0</text>
<text x="524.60" y="12.7" style="font-family:'Liberation Serif',serif;font-size:7.6px;fill:#111;stroke:#111;stroke-width:0.15">1</text>
<text x="531.70" y="9.3" textLength="53.7" lengthAdjust="spacing" style="font-family:'Liberation Serif',serif;font-size:10.5px;fill:#111;stroke:#111;stroke-width:0.1">composition</text>
<g transform="translate(355.70,0)">
<ellipse cx="40.8" cy="40.2" rx="21.8" ry="10" transform="rotate(-14.1 40.8 40.2)" fill="none" stroke="#888" stroke-width="0.6"/>
<ellipse cx="47.7" cy="46.6" rx="11.9" ry="4.6" transform="rotate(-15.8 47.7 46.6)" fill="none" stroke="#666" stroke-width="0.65"/>
<text x="0.90" y="40.5" textLength="7.00" lengthAdjust="spacingAndGlyphs" style="font-family:'Liberation Sans',sans-serif;fill:#222;stroke:#222;stroke-width:0.25;font-size:12.5px">m</text>
<text x="8.90" y="40.5" textLength="5.10" lengthAdjust="spacingAndGlyphs" style="font-family:'Liberation Sans',sans-serif;fill:#222;stroke:#222;stroke-width:0.25;font-size:12.5px">a</text>
<text x="14.50" y="40.5" textLength="4.70" lengthAdjust="spacingAndGlyphs" style="font-family:'Liberation Sans',sans-serif;fill:#222;stroke:#222;stroke-width:0.25;font-size:12.5px">s</text>
<text x="19.60" y="40.5" textLength="7.50" lengthAdjust="spacingAndGlyphs" style="font-family:'Liberation Sans',sans-serif;fill:#222;stroke:#222;stroke-width:0.25;font-size:8.9px">T</text>
<text x="27.60" y="40.5" textLength="7.00" lengthAdjust="spacingAndGlyphs" style="font-family:'Liberation Sans',sans-serif;fill:#222;stroke:#222;stroke-width:0.25;font-size:12.5px">e</text>
<text x="35.00" y="40.5" textLength="7.00" lengthAdjust="spacingAndGlyphs" style="font-family:'Liberation Sans',sans-serif;fill:#222;stroke:#222;stroke-width:0.25;font-size:8.9px">R</text>
<text x="43" y="40.5" textLength="16.8" lengthAdjust="spacingAndGlyphs" style="font-family:'Liberation Sans',sans-serif;fill:#2a2a2a;stroke:#2a2a2a;stroke-width:0.25;font-size:6.6px">code</text>
<circle cx="37.4" cy="30.9" r="1.3" fill="#2050c0"/>
<circle cx="60.8" cy="40.1" r="1.1" fill="#e02020"/>
<circle cx="47.2" cy="48.8" r="1.4" fill="#f8c020"/>
<circle cx="29" cy="51.2" r="1.2" fill="#50a030"/>
</g>
<defs><linearGradient id="g355b" x1="0" y1="1" x2="0" y2="0"><stop offset="0" stop-color="#0a10ff"/><stop offset="1" stop-color="#84c0ff"/></linearGradient><linearGradient id="g355o" x1="0" y1="1" x2="0" y2="0"><stop offset="0" stop-color="#ffa000"/><stop offset="1" stop-color="#f8dcb0"/></linearGradient><linearGradient id="g355r" x1="0" y1="1" x2="0" y2="0"><stop offset="0" stop-color="#f00000"/><stop offset="1" stop-color="#f87272"/></linearGradient></defs>
<rect x="636.50" y="215.44" width="13" height="49.86" fill="url(#g355b)"/>
<rect x="636.50" y="135.44" width="13" height="80.00" fill="url(#g355o)"/>
<rect x="636.50" y="20.10" width="13" height="115.34" fill="url(#g355r)"/>
<rect x="637.00" y="20.60" width="12" height="244.20" fill="none" stroke="#111" stroke-width="1"/>
<line x1="646.50" y1="265.30" x2="649.50" y2="265.30" stroke="#222" stroke-width="0.8"/>
<text x="652.50" y="267.80" style="font-family:'Liberation Serif',serif;font-size:8.4px;fill:#222;stroke:#222;stroke-width:0.15">0.0</text>
<line x1="646.50" y1="232.78" x2="649.50" y2="232.78" stroke="#222" stroke-width="0.8"/>
<text x="652.50" y="235.28" style="font-family:'Liberation Serif',serif;font-size:8.4px;fill:#222;stroke:#222;stroke-width:0.15">1.5</text>
<line x1="646.50" y1="200.26" x2="649.50" y2="200.26" stroke="#222" stroke-width="0.8"/>
<text x="652.50" y="202.76" style="font-family:'Liberation Serif',serif;font-size:8.4px;fill:#222;stroke:#222;stroke-width:0.15">3.0</text>
<line x1="646.50" y1="167.74" x2="649.50" y2="167.74" stroke="#222" stroke-width="0.8"/>
<text x="652.50" y="170.24" style="font-family:'Liberation Serif',serif;font-size:8.4px;fill:#222;stroke:#222;stroke-width:0.15">4.5</text>
<line x1="646.50" y1="135.22" x2="649.50" y2="135.22" stroke="#222" stroke-width="0.8"/>
<text x="652.50" y="137.72" style="font-family:'Liberation Serif',serif;font-size:8.4px;fill:#222;stroke:#222;stroke-width:0.15">6.0</text>
<line x1="646.50" y1="102.70" x2="649.50" y2="102.70" stroke="#222" stroke-width="0.8"/>
<text x="652.50" y="105.20" style="font-family:'Liberation Serif',serif;font-size:8.4px;fill:#222;stroke:#222;stroke-width:0.15">7.5</text>
<line x1="646.50" y1="70.18" x2="649.50" y2="70.18" stroke="#222" stroke-width="0.8"/>
<text x="652.50" y="72.68" style="font-family:'Liberation Serif',serif;font-size:8.4px;fill:#222;stroke:#222;stroke-width:0.15">9.0</text>
<line x1="646.50" y1="37.66" x2="649.50" y2="37.66" stroke="#222" stroke-width="0.8"/>
<text x="652.50" y="40.16" style="font-family:'Liberation Serif',serif;font-size:8.4px;fill:#222;stroke:#222;stroke-width:0.15">10.5</text>
<g transform="translate(682.20,154.3) rotate(-90)" style="font-family:'Liberation Serif',serif;fill:#111"><text x="0" y="0" textLength="9.6" lengthAdjust="spacingAndGlyphs" style="font-size:16px">Δ</text><text x="10.6" y="0" style="font-size:15px;font-style:italic">χ</text><text x="18.9" y="-6.5" style="font-size:9px">2</text></g>
</svg></body></html>
